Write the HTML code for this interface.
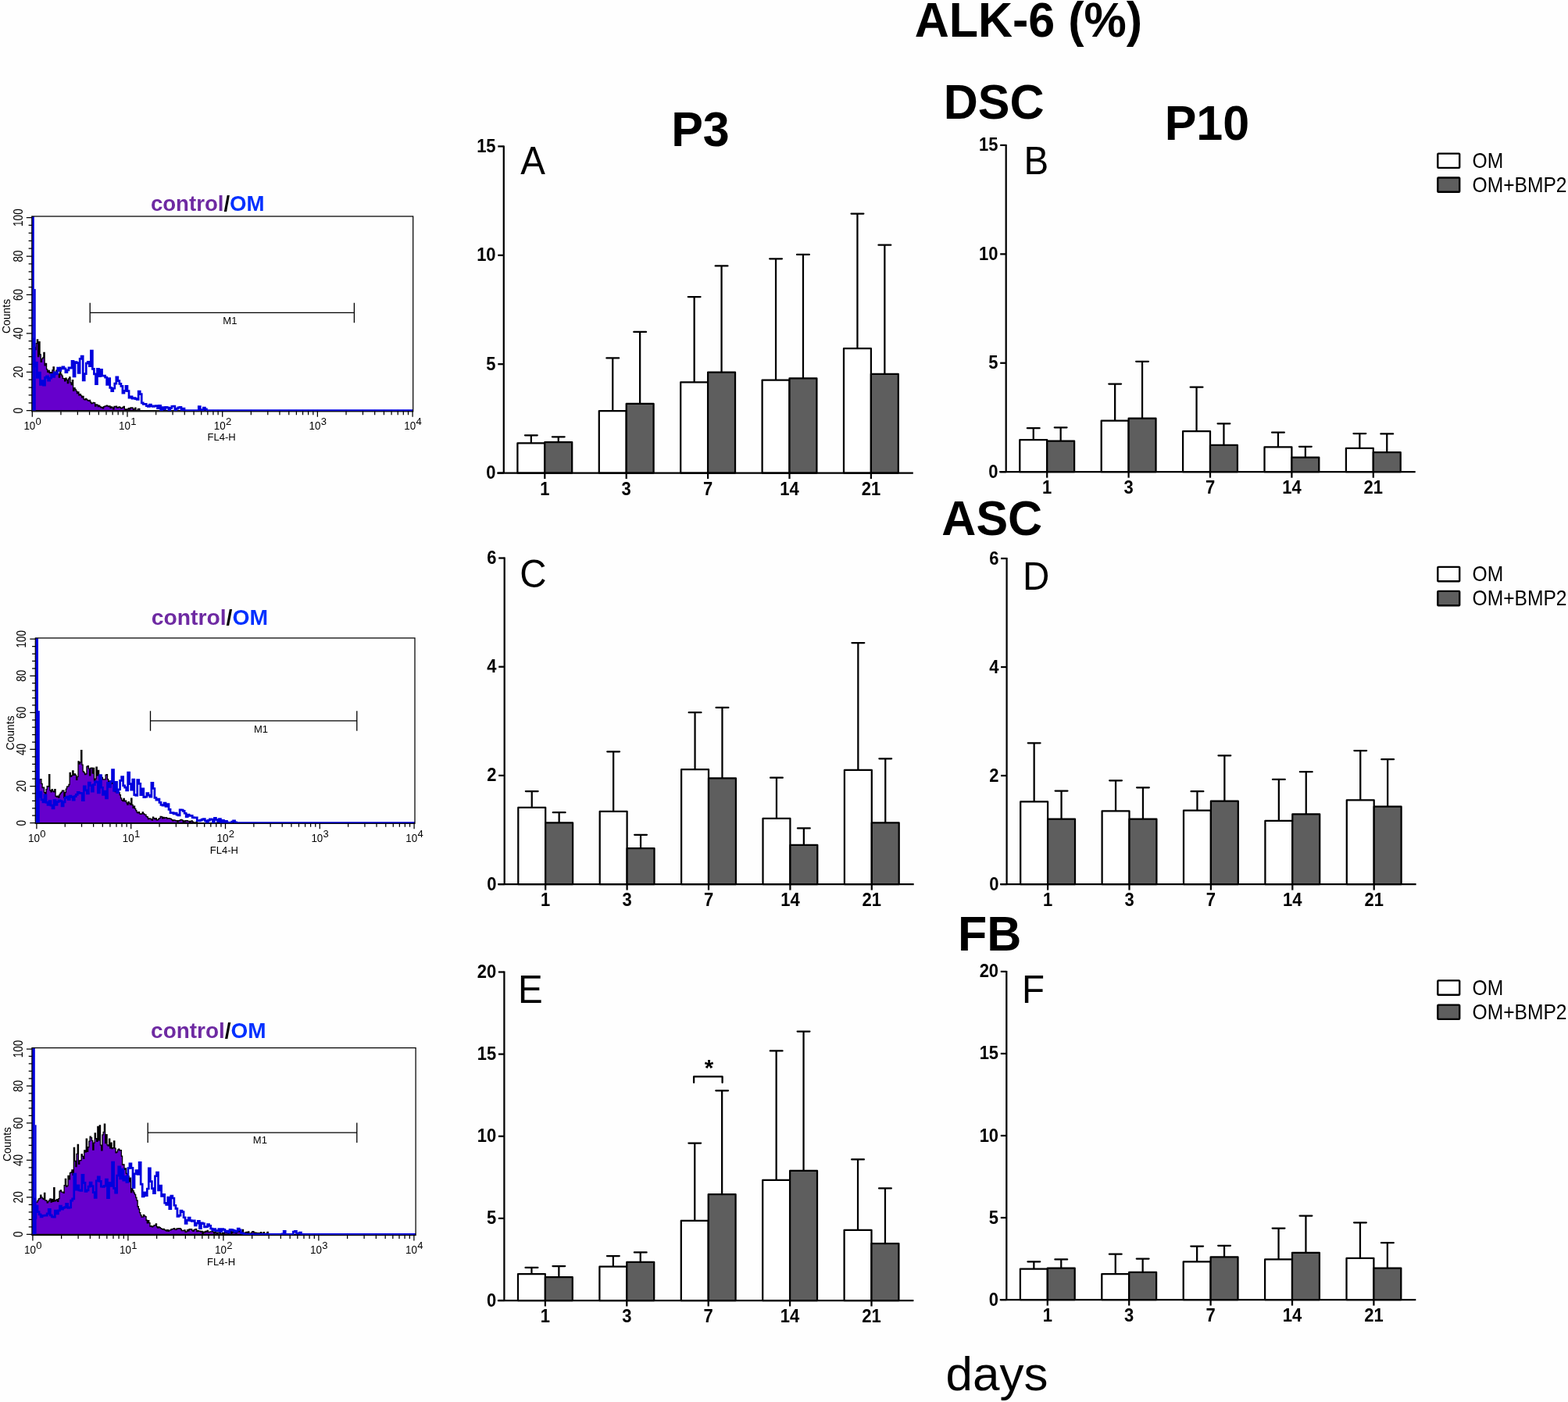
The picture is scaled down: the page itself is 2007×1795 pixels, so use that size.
<!DOCTYPE html>
<html><head><meta charset="utf-8"><title>ALK-6 (%)</title>
<style>html,body{margin:0;padding:0;background:#fefefe;}svg{display:block;}</style></head>
<body><svg width="2007" height="1795" viewBox="0 0 2007 1795">
<rect width="2007" height="1795" fill="#fefefe"/>
<g fill="none" stroke="#000" stroke-width="2.25" stroke-linejoin="round"><line x1="679.85" y1="567.40" x2="679.85" y2="557.37" /><line x1="671.95" y1="557.37" x2="687.75" y2="557.37" stroke-linecap="round"/><rect x="662.40" y="567.40" width="34.90" height="38.20" fill="#ffffff" /><line x1="714.75" y1="566.01" x2="714.75" y2="559.32" /><line x1="706.85" y1="559.32" x2="722.65" y2="559.32" stroke-linecap="round"/><rect x="697.30" y="566.01" width="34.90" height="39.59" fill="#5e5e5e" /><line x1="784.25" y1="526.14" x2="784.25" y2="458.39" /><line x1="776.35" y1="458.39" x2="792.15" y2="458.39" stroke-linecap="round"/><rect x="766.80" y="526.14" width="34.90" height="79.46" fill="#ffffff" /><line x1="819.15" y1="516.94" x2="819.15" y2="424.94" /><line x1="811.25" y1="424.94" x2="827.05" y2="424.94" stroke-linecap="round"/><rect x="801.70" y="516.94" width="34.90" height="88.66" fill="#5e5e5e" /><line x1="888.65" y1="489.34" x2="888.65" y2="380.05" /><line x1="880.75" y1="380.05" x2="896.55" y2="380.05" stroke-linecap="round"/><rect x="871.20" y="489.34" width="34.90" height="116.26" fill="#ffffff" /><line x1="923.55" y1="476.52" x2="923.55" y2="340.46" /><line x1="915.65" y1="340.46" x2="931.45" y2="340.46" stroke-linecap="round"/><rect x="906.10" y="476.52" width="34.90" height="129.08" fill="#5e5e5e" /><line x1="993.05" y1="486.55" x2="993.05" y2="331.26" /><line x1="985.15" y1="331.26" x2="1000.95" y2="331.26" stroke-linecap="round"/><rect x="975.60" y="486.55" width="34.90" height="119.05" fill="#ffffff" /><line x1="1027.95" y1="484.32" x2="1027.95" y2="325.96" /><line x1="1020.05" y1="325.96" x2="1035.85" y2="325.96" stroke-linecap="round"/><rect x="1010.50" y="484.32" width="34.90" height="121.28" fill="#5e5e5e" /><line x1="1097.45" y1="446.13" x2="1097.45" y2="273.55" /><line x1="1089.55" y1="273.55" x2="1105.35" y2="273.55" stroke-linecap="round"/><rect x="1080.00" y="446.13" width="34.90" height="159.47" fill="#ffffff" /><line x1="1132.35" y1="478.75" x2="1132.35" y2="313.70" /><line x1="1124.45" y1="313.70" x2="1140.25" y2="313.70" stroke-linecap="round"/><rect x="1114.90" y="478.75" width="34.90" height="126.85" fill="#5e5e5e" /><line x1="644.80" y1="186.40" x2="644.80" y2="605.60" /><line x1="636.30" y1="605.60" x2="1168.80" y2="605.60" /><line x1="637.30" y1="605.60" x2="644.80" y2="605.60" /><line x1="637.30" y1="466.20" x2="644.80" y2="466.20" /><line x1="637.30" y1="326.80" x2="644.80" y2="326.80" /><line x1="637.30" y1="187.40" x2="644.80" y2="187.40" /><line x1="697.30" y1="605.60" x2="697.30" y2="613.10" /><line x1="801.70" y1="605.60" x2="801.70" y2="613.10" /><line x1="906.10" y1="605.60" x2="906.10" y2="613.10" /><line x1="1010.50" y1="605.60" x2="1010.50" y2="613.10" /><line x1="1114.90" y1="605.60" x2="1114.90" y2="613.10" /></g>
<text transform="translate(634.60,613.10) scale(1,1.11)" text-anchor="end" font-family="'Liberation Sans', Arial, Helvetica, sans-serif" font-size="22" font-weight="bold" fill="#000">0</text><text transform="translate(634.60,473.70) scale(1,1.11)" text-anchor="end" font-family="'Liberation Sans', Arial, Helvetica, sans-serif" font-size="22" font-weight="bold" fill="#000">5</text><text transform="translate(634.60,334.30) scale(1,1.11)" text-anchor="end" font-family="'Liberation Sans', Arial, Helvetica, sans-serif" font-size="22" font-weight="bold" fill="#000">10</text><text transform="translate(634.60,194.90) scale(1,1.11)" text-anchor="end" font-family="'Liberation Sans', Arial, Helvetica, sans-serif" font-size="22" font-weight="bold" fill="#000">15</text><text transform="translate(697.30,633.80) scale(1,1.11)" text-anchor="middle" font-family="'Liberation Sans', Arial, Helvetica, sans-serif" font-size="22" font-weight="bold" fill="#000">1</text><text transform="translate(801.70,633.80) scale(1,1.11)" text-anchor="middle" font-family="'Liberation Sans', Arial, Helvetica, sans-serif" font-size="22" font-weight="bold" fill="#000">3</text><text transform="translate(906.10,633.80) scale(1,1.11)" text-anchor="middle" font-family="'Liberation Sans', Arial, Helvetica, sans-serif" font-size="22" font-weight="bold" fill="#000">7</text><text transform="translate(1010.50,633.80) scale(1,1.11)" text-anchor="middle" font-family="'Liberation Sans', Arial, Helvetica, sans-serif" font-size="22" font-weight="bold" fill="#000">14</text><text transform="translate(1114.90,633.80) scale(1,1.11)" text-anchor="middle" font-family="'Liberation Sans', Arial, Helvetica, sans-serif" font-size="22" font-weight="bold" fill="#000">21</text>
<text transform="translate(666.30,223.00) scale(1,1.04)" text-anchor="start" font-family="'Liberation Sans', Arial, Helvetica, sans-serif" font-size="47.5" fill="#000">A</text>
<g fill="none" stroke="#000" stroke-width="2.25" stroke-linejoin="round"><line x1="1322.75" y1="563.21" x2="1322.75" y2="548.15" /><line x1="1314.85" y1="548.15" x2="1330.65" y2="548.15" stroke-linecap="round"/><rect x="1305.30" y="563.21" width="34.90" height="40.99" fill="#ffffff" /><line x1="1357.65" y1="564.60" x2="1357.65" y2="547.31" /><line x1="1349.75" y1="547.31" x2="1365.55" y2="547.31" stroke-linecap="round"/><rect x="1340.20" y="564.60" width="34.90" height="39.60" fill="#5e5e5e" /><line x1="1427.15" y1="538.67" x2="1427.15" y2="491.54" /><line x1="1419.25" y1="491.54" x2="1435.05" y2="491.54" stroke-linecap="round"/><rect x="1409.70" y="538.67" width="34.90" height="65.53" fill="#ffffff" /><line x1="1462.05" y1="535.60" x2="1462.05" y2="462.81" /><line x1="1454.15" y1="462.81" x2="1469.95" y2="462.81" stroke-linecap="round"/><rect x="1444.60" y="535.60" width="34.90" height="68.60" fill="#5e5e5e" /><line x1="1531.55" y1="552.05" x2="1531.55" y2="495.72" /><line x1="1523.65" y1="495.72" x2="1539.45" y2="495.72" stroke-linecap="round"/><rect x="1514.10" y="552.05" width="34.90" height="52.15" fill="#ffffff" /><line x1="1566.45" y1="569.90" x2="1566.45" y2="542.29" /><line x1="1558.55" y1="542.29" x2="1574.35" y2="542.29" stroke-linecap="round"/><rect x="1549.00" y="569.90" width="34.90" height="34.30" fill="#5e5e5e" /><line x1="1635.95" y1="572.41" x2="1635.95" y2="553.73" /><line x1="1628.05" y1="553.73" x2="1643.85" y2="553.73" stroke-linecap="round"/><rect x="1618.50" y="572.41" width="34.90" height="31.79" fill="#ffffff" /><line x1="1670.85" y1="585.52" x2="1670.85" y2="571.85" /><line x1="1662.95" y1="571.85" x2="1678.75" y2="571.85" stroke-linecap="round"/><rect x="1653.40" y="585.52" width="34.90" height="18.68" fill="#5e5e5e" /><line x1="1740.35" y1="573.80" x2="1740.35" y2="555.12" /><line x1="1732.45" y1="555.12" x2="1748.25" y2="555.12" stroke-linecap="round"/><rect x="1722.90" y="573.80" width="34.90" height="30.40" fill="#ffffff" /><line x1="1775.25" y1="579.10" x2="1775.25" y2="555.40" /><line x1="1767.35" y1="555.40" x2="1783.15" y2="555.40" stroke-linecap="round"/><rect x="1757.80" y="579.10" width="34.90" height="25.10" fill="#5e5e5e" /><line x1="1287.70" y1="184.90" x2="1287.70" y2="604.20" /><line x1="1279.20" y1="604.20" x2="1811.70" y2="604.20" /><line x1="1280.20" y1="604.20" x2="1287.70" y2="604.20" /><line x1="1280.20" y1="464.77" x2="1287.70" y2="464.77" /><line x1="1280.20" y1="325.33" x2="1287.70" y2="325.33" /><line x1="1280.20" y1="185.90" x2="1287.70" y2="185.90" /><line x1="1340.20" y1="604.20" x2="1340.20" y2="611.70" /><line x1="1444.60" y1="604.20" x2="1444.60" y2="611.70" /><line x1="1549.00" y1="604.20" x2="1549.00" y2="611.70" /><line x1="1653.40" y1="604.20" x2="1653.40" y2="611.70" /><line x1="1757.80" y1="604.20" x2="1757.80" y2="611.70" /></g>
<text transform="translate(1277.50,611.70) scale(1,1.11)" text-anchor="end" font-family="'Liberation Sans', Arial, Helvetica, sans-serif" font-size="22" font-weight="bold" fill="#000">0</text><text transform="translate(1277.50,472.27) scale(1,1.11)" text-anchor="end" font-family="'Liberation Sans', Arial, Helvetica, sans-serif" font-size="22" font-weight="bold" fill="#000">5</text><text transform="translate(1277.50,332.83) scale(1,1.11)" text-anchor="end" font-family="'Liberation Sans', Arial, Helvetica, sans-serif" font-size="22" font-weight="bold" fill="#000">10</text><text transform="translate(1277.50,193.40) scale(1,1.11)" text-anchor="end" font-family="'Liberation Sans', Arial, Helvetica, sans-serif" font-size="22" font-weight="bold" fill="#000">15</text><text transform="translate(1340.20,632.40) scale(1,1.11)" text-anchor="middle" font-family="'Liberation Sans', Arial, Helvetica, sans-serif" font-size="22" font-weight="bold" fill="#000">1</text><text transform="translate(1444.60,632.40) scale(1,1.11)" text-anchor="middle" font-family="'Liberation Sans', Arial, Helvetica, sans-serif" font-size="22" font-weight="bold" fill="#000">3</text><text transform="translate(1549.00,632.40) scale(1,1.11)" text-anchor="middle" font-family="'Liberation Sans', Arial, Helvetica, sans-serif" font-size="22" font-weight="bold" fill="#000">7</text><text transform="translate(1653.40,632.40) scale(1,1.11)" text-anchor="middle" font-family="'Liberation Sans', Arial, Helvetica, sans-serif" font-size="22" font-weight="bold" fill="#000">14</text><text transform="translate(1757.80,632.40) scale(1,1.11)" text-anchor="middle" font-family="'Liberation Sans', Arial, Helvetica, sans-serif" font-size="22" font-weight="bold" fill="#000">21</text>
<text transform="translate(1310.50,222.60) scale(1,1.04)" text-anchor="start" font-family="'Liberation Sans', Arial, Helvetica, sans-serif" font-size="47.5" fill="#000">B</text>
<g fill="none" stroke="#000" stroke-width="2.25" stroke-linejoin="round"><line x1="680.75" y1="1033.96" x2="680.75" y2="1013.08" /><line x1="672.85" y1="1013.08" x2="688.65" y2="1013.08" stroke-linecap="round"/><rect x="663.30" y="1033.96" width="34.90" height="98.14" fill="#ffffff" /><line x1="715.65" y1="1053.45" x2="715.65" y2="1040.23" /><line x1="707.75" y1="1040.23" x2="723.55" y2="1040.23" stroke-linecap="round"/><rect x="698.20" y="1053.45" width="34.90" height="78.65" fill="#5e5e5e" /><line x1="785.15" y1="1038.84" x2="785.15" y2="962.28" /><line x1="777.25" y1="962.28" x2="793.05" y2="962.28" stroke-linecap="round"/><rect x="767.70" y="1038.84" width="34.90" height="93.26" fill="#ffffff" /><line x1="820.05" y1="1086.16" x2="820.05" y2="1068.76" /><line x1="812.15" y1="1068.76" x2="827.95" y2="1068.76" stroke-linecap="round"/><rect x="802.60" y="1086.16" width="34.90" height="45.94" fill="#5e5e5e" /><line x1="889.55" y1="985.24" x2="889.55" y2="912.16" /><line x1="881.65" y1="912.16" x2="897.45" y2="912.16" stroke-linecap="round"/><rect x="872.10" y="985.24" width="34.90" height="146.86" fill="#ffffff" /><line x1="924.45" y1="996.38" x2="924.45" y2="905.90" /><line x1="916.55" y1="905.90" x2="932.35" y2="905.90" stroke-linecap="round"/><rect x="907.00" y="996.38" width="34.90" height="135.72" fill="#5e5e5e" /><line x1="993.95" y1="1047.88" x2="993.95" y2="995.68" /><line x1="986.05" y1="995.68" x2="1001.85" y2="995.68" stroke-linecap="round"/><rect x="976.50" y="1047.88" width="34.90" height="84.22" fill="#ffffff" /><line x1="1028.85" y1="1081.99" x2="1028.85" y2="1060.41" /><line x1="1020.95" y1="1060.41" x2="1036.75" y2="1060.41" stroke-linecap="round"/><rect x="1011.40" y="1081.99" width="34.90" height="50.11" fill="#5e5e5e" /><line x1="1098.35" y1="985.94" x2="1098.35" y2="823.08" /><line x1="1090.45" y1="823.08" x2="1106.25" y2="823.08" stroke-linecap="round"/><rect x="1080.90" y="985.94" width="34.90" height="146.16" fill="#ffffff" /><line x1="1133.25" y1="1053.45" x2="1133.25" y2="971.32" /><line x1="1125.35" y1="971.32" x2="1141.15" y2="971.32" stroke-linecap="round"/><rect x="1115.80" y="1053.45" width="34.90" height="78.65" fill="#5e5e5e" /><line x1="645.70" y1="713.50" x2="645.70" y2="1132.10" /><line x1="637.20" y1="1132.10" x2="1169.70" y2="1132.10" /><line x1="638.20" y1="1132.10" x2="645.70" y2="1132.10" /><line x1="638.20" y1="992.90" x2="645.70" y2="992.90" /><line x1="638.20" y1="853.70" x2="645.70" y2="853.70" /><line x1="638.20" y1="714.50" x2="645.70" y2="714.50" /><line x1="698.20" y1="1132.10" x2="698.20" y2="1139.60" /><line x1="802.60" y1="1132.10" x2="802.60" y2="1139.60" /><line x1="907.00" y1="1132.10" x2="907.00" y2="1139.60" /><line x1="1011.40" y1="1132.10" x2="1011.40" y2="1139.60" /><line x1="1115.80" y1="1132.10" x2="1115.80" y2="1139.60" /></g>
<text transform="translate(635.50,1139.60) scale(1,1.11)" text-anchor="end" font-family="'Liberation Sans', Arial, Helvetica, sans-serif" font-size="22" font-weight="bold" fill="#000">0</text><text transform="translate(635.50,1000.40) scale(1,1.11)" text-anchor="end" font-family="'Liberation Sans', Arial, Helvetica, sans-serif" font-size="22" font-weight="bold" fill="#000">2</text><text transform="translate(635.50,861.20) scale(1,1.11)" text-anchor="end" font-family="'Liberation Sans', Arial, Helvetica, sans-serif" font-size="22" font-weight="bold" fill="#000">4</text><text transform="translate(635.50,722.00) scale(1,1.11)" text-anchor="end" font-family="'Liberation Sans', Arial, Helvetica, sans-serif" font-size="22" font-weight="bold" fill="#000">6</text><text transform="translate(698.20,1160.30) scale(1,1.11)" text-anchor="middle" font-family="'Liberation Sans', Arial, Helvetica, sans-serif" font-size="22" font-weight="bold" fill="#000">1</text><text transform="translate(802.60,1160.30) scale(1,1.11)" text-anchor="middle" font-family="'Liberation Sans', Arial, Helvetica, sans-serif" font-size="22" font-weight="bold" fill="#000">3</text><text transform="translate(907.00,1160.30) scale(1,1.11)" text-anchor="middle" font-family="'Liberation Sans', Arial, Helvetica, sans-serif" font-size="22" font-weight="bold" fill="#000">7</text><text transform="translate(1011.40,1160.30) scale(1,1.11)" text-anchor="middle" font-family="'Liberation Sans', Arial, Helvetica, sans-serif" font-size="22" font-weight="bold" fill="#000">14</text><text transform="translate(1115.80,1160.30) scale(1,1.11)" text-anchor="middle" font-family="'Liberation Sans', Arial, Helvetica, sans-serif" font-size="22" font-weight="bold" fill="#000">21</text>
<text transform="translate(665.30,751.90) scale(1,1.04)" text-anchor="start" font-family="'Liberation Sans', Arial, Helvetica, sans-serif" font-size="47.5" fill="#000">C</text>
<g fill="none" stroke="#000" stroke-width="2.25" stroke-linejoin="round"><line x1="1323.65" y1="1026.43" x2="1323.65" y2="951.36" /><line x1="1315.75" y1="951.36" x2="1331.55" y2="951.36" stroke-linecap="round"/><rect x="1306.20" y="1026.43" width="34.90" height="105.67" fill="#ffffff" /><line x1="1358.55" y1="1048.68" x2="1358.55" y2="1012.53" /><line x1="1350.65" y1="1012.53" x2="1366.45" y2="1012.53" stroke-linecap="round"/><rect x="1341.10" y="1048.68" width="34.90" height="83.42" fill="#5e5e5e" /><line x1="1428.05" y1="1038.25" x2="1428.05" y2="999.32" /><line x1="1420.15" y1="999.32" x2="1435.95" y2="999.32" stroke-linecap="round"/><rect x="1410.60" y="1038.25" width="34.90" height="93.85" fill="#ffffff" /><line x1="1462.95" y1="1048.68" x2="1462.95" y2="1008.36" /><line x1="1455.05" y1="1008.36" x2="1470.85" y2="1008.36" stroke-linecap="round"/><rect x="1445.50" y="1048.68" width="34.90" height="83.42" fill="#5e5e5e" /><line x1="1532.45" y1="1037.56" x2="1532.45" y2="1013.23" /><line x1="1524.55" y1="1013.23" x2="1540.35" y2="1013.23" stroke-linecap="round"/><rect x="1515.00" y="1037.56" width="34.90" height="94.54" fill="#ffffff" /><line x1="1567.35" y1="1025.74" x2="1567.35" y2="967.35" /><line x1="1559.45" y1="967.35" x2="1575.25" y2="967.35" stroke-linecap="round"/><rect x="1549.90" y="1025.74" width="34.90" height="106.36" fill="#5e5e5e" /><line x1="1636.85" y1="1050.77" x2="1636.85" y2="997.93" /><line x1="1628.95" y1="997.93" x2="1644.75" y2="997.93" stroke-linecap="round"/><rect x="1619.40" y="1050.77" width="34.90" height="81.33" fill="#ffffff" /><line x1="1671.75" y1="1042.42" x2="1671.75" y2="988.20" /><line x1="1663.85" y1="988.20" x2="1679.65" y2="988.20" stroke-linecap="round"/><rect x="1654.30" y="1042.42" width="34.90" height="89.68" fill="#5e5e5e" /><line x1="1741.25" y1="1024.35" x2="1741.25" y2="961.09" /><line x1="1733.35" y1="961.09" x2="1749.15" y2="961.09" stroke-linecap="round"/><rect x="1723.80" y="1024.35" width="34.90" height="107.75" fill="#ffffff" /><line x1="1776.15" y1="1032.69" x2="1776.15" y2="972.21" /><line x1="1768.25" y1="972.21" x2="1784.05" y2="972.21" stroke-linecap="round"/><rect x="1758.70" y="1032.69" width="34.90" height="99.41" fill="#5e5e5e" /><line x1="1288.60" y1="714.00" x2="1288.60" y2="1132.10" /><line x1="1280.10" y1="1132.10" x2="1812.60" y2="1132.10" /><line x1="1281.10" y1="1132.10" x2="1288.60" y2="1132.10" /><line x1="1281.10" y1="993.07" x2="1288.60" y2="993.07" /><line x1="1281.10" y1="854.03" x2="1288.60" y2="854.03" /><line x1="1281.10" y1="715.00" x2="1288.60" y2="715.00" /><line x1="1341.10" y1="1132.10" x2="1341.10" y2="1139.60" /><line x1="1445.50" y1="1132.10" x2="1445.50" y2="1139.60" /><line x1="1549.90" y1="1132.10" x2="1549.90" y2="1139.60" /><line x1="1654.30" y1="1132.10" x2="1654.30" y2="1139.60" /><line x1="1758.70" y1="1132.10" x2="1758.70" y2="1139.60" /></g>
<text transform="translate(1278.40,1139.60) scale(1,1.11)" text-anchor="end" font-family="'Liberation Sans', Arial, Helvetica, sans-serif" font-size="22" font-weight="bold" fill="#000">0</text><text transform="translate(1278.40,1000.57) scale(1,1.11)" text-anchor="end" font-family="'Liberation Sans', Arial, Helvetica, sans-serif" font-size="22" font-weight="bold" fill="#000">2</text><text transform="translate(1278.40,861.53) scale(1,1.11)" text-anchor="end" font-family="'Liberation Sans', Arial, Helvetica, sans-serif" font-size="22" font-weight="bold" fill="#000">4</text><text transform="translate(1278.40,722.50) scale(1,1.11)" text-anchor="end" font-family="'Liberation Sans', Arial, Helvetica, sans-serif" font-size="22" font-weight="bold" fill="#000">6</text><text transform="translate(1341.10,1160.30) scale(1,1.11)" text-anchor="middle" font-family="'Liberation Sans', Arial, Helvetica, sans-serif" font-size="22" font-weight="bold" fill="#000">1</text><text transform="translate(1445.50,1160.30) scale(1,1.11)" text-anchor="middle" font-family="'Liberation Sans', Arial, Helvetica, sans-serif" font-size="22" font-weight="bold" fill="#000">3</text><text transform="translate(1549.90,1160.30) scale(1,1.11)" text-anchor="middle" font-family="'Liberation Sans', Arial, Helvetica, sans-serif" font-size="22" font-weight="bold" fill="#000">7</text><text transform="translate(1654.30,1160.30) scale(1,1.11)" text-anchor="middle" font-family="'Liberation Sans', Arial, Helvetica, sans-serif" font-size="22" font-weight="bold" fill="#000">14</text><text transform="translate(1758.70,1160.30) scale(1,1.11)" text-anchor="middle" font-family="'Liberation Sans', Arial, Helvetica, sans-serif" font-size="22" font-weight="bold" fill="#000">21</text>
<text transform="translate(1309.00,755.40) scale(1,1.04)" text-anchor="start" font-family="'Liberation Sans', Arial, Helvetica, sans-serif" font-size="47.5" fill="#000">D</text>
<g fill="none" stroke="#000" stroke-width="2.25" stroke-linejoin="round"><line x1="680.45" y1="1631.15" x2="680.45" y2="1622.95" /><line x1="672.55" y1="1622.95" x2="688.35" y2="1622.95" stroke-linecap="round"/><rect x="663.00" y="1631.15" width="34.90" height="33.85" fill="#ffffff" /><line x1="715.35" y1="1635.14" x2="715.35" y2="1621.06" /><line x1="707.45" y1="1621.06" x2="723.25" y2="1621.06" stroke-linecap="round"/><rect x="697.90" y="1635.14" width="34.90" height="29.86" fill="#5e5e5e" /><line x1="784.85" y1="1621.69" x2="784.85" y2="1608.02" /><line x1="776.95" y1="1608.02" x2="792.75" y2="1608.02" stroke-linecap="round"/><rect x="767.40" y="1621.69" width="34.90" height="43.31" fill="#ffffff" /><line x1="819.75" y1="1615.80" x2="819.75" y2="1603.40" /><line x1="811.85" y1="1603.40" x2="827.65" y2="1603.40" stroke-linecap="round"/><rect x="802.30" y="1615.80" width="34.90" height="49.20" fill="#5e5e5e" /><line x1="889.25" y1="1562.82" x2="889.25" y2="1463.58" /><line x1="881.35" y1="1463.58" x2="897.15" y2="1463.58" stroke-linecap="round"/><rect x="871.80" y="1562.82" width="34.90" height="102.18" fill="#ffffff" /><line x1="924.15" y1="1529.18" x2="924.15" y2="1396.30" /><line x1="916.25" y1="1396.30" x2="932.05" y2="1396.30" stroke-linecap="round"/><rect x="906.70" y="1529.18" width="34.90" height="135.82" fill="#5e5e5e" /><line x1="993.65" y1="1510.89" x2="993.65" y2="1345.42" /><line x1="985.75" y1="1345.42" x2="1001.55" y2="1345.42" stroke-linecap="round"/><rect x="976.20" y="1510.89" width="34.90" height="154.11" fill="#ffffff" /><line x1="1028.55" y1="1498.90" x2="1028.55" y2="1320.61" /><line x1="1020.65" y1="1320.61" x2="1036.45" y2="1320.61" stroke-linecap="round"/><rect x="1011.10" y="1498.90" width="34.90" height="166.10" fill="#5e5e5e" /><line x1="1098.05" y1="1574.80" x2="1098.05" y2="1484.40" /><line x1="1090.15" y1="1484.40" x2="1105.95" y2="1484.40" stroke-linecap="round"/><rect x="1080.60" y="1574.80" width="34.90" height="90.20" fill="#ffffff" /><line x1="1132.95" y1="1592.04" x2="1132.95" y2="1521.40" /><line x1="1125.05" y1="1521.40" x2="1140.85" y2="1521.40" stroke-linecap="round"/><rect x="1115.50" y="1592.04" width="34.90" height="72.96" fill="#5e5e5e" /><line x1="645.40" y1="1243.50" x2="645.40" y2="1665.00" /><line x1="636.90" y1="1665.00" x2="1169.40" y2="1665.00" /><line x1="637.90" y1="1665.00" x2="645.40" y2="1665.00" /><line x1="637.90" y1="1559.88" x2="645.40" y2="1559.88" /><line x1="637.90" y1="1454.75" x2="645.40" y2="1454.75" /><line x1="637.90" y1="1349.62" x2="645.40" y2="1349.62" /><line x1="637.90" y1="1244.50" x2="645.40" y2="1244.50" /><line x1="697.90" y1="1665.00" x2="697.90" y2="1672.50" /><line x1="802.30" y1="1665.00" x2="802.30" y2="1672.50" /><line x1="906.70" y1="1665.00" x2="906.70" y2="1672.50" /><line x1="1011.10" y1="1665.00" x2="1011.10" y2="1672.50" /><line x1="1115.50" y1="1665.00" x2="1115.50" y2="1672.50" /></g>
<text transform="translate(635.20,1672.50) scale(1,1.11)" text-anchor="end" font-family="'Liberation Sans', Arial, Helvetica, sans-serif" font-size="22" font-weight="bold" fill="#000">0</text><text transform="translate(635.20,1567.38) scale(1,1.11)" text-anchor="end" font-family="'Liberation Sans', Arial, Helvetica, sans-serif" font-size="22" font-weight="bold" fill="#000">5</text><text transform="translate(635.20,1462.25) scale(1,1.11)" text-anchor="end" font-family="'Liberation Sans', Arial, Helvetica, sans-serif" font-size="22" font-weight="bold" fill="#000">10</text><text transform="translate(635.20,1357.12) scale(1,1.11)" text-anchor="end" font-family="'Liberation Sans', Arial, Helvetica, sans-serif" font-size="22" font-weight="bold" fill="#000">15</text><text transform="translate(635.20,1252.00) scale(1,1.11)" text-anchor="end" font-family="'Liberation Sans', Arial, Helvetica, sans-serif" font-size="22" font-weight="bold" fill="#000">20</text><text transform="translate(697.90,1693.20) scale(1,1.11)" text-anchor="middle" font-family="'Liberation Sans', Arial, Helvetica, sans-serif" font-size="22" font-weight="bold" fill="#000">1</text><text transform="translate(802.30,1693.20) scale(1,1.11)" text-anchor="middle" font-family="'Liberation Sans', Arial, Helvetica, sans-serif" font-size="22" font-weight="bold" fill="#000">3</text><text transform="translate(906.70,1693.20) scale(1,1.11)" text-anchor="middle" font-family="'Liberation Sans', Arial, Helvetica, sans-serif" font-size="22" font-weight="bold" fill="#000">7</text><text transform="translate(1011.10,1693.20) scale(1,1.11)" text-anchor="middle" font-family="'Liberation Sans', Arial, Helvetica, sans-serif" font-size="22" font-weight="bold" fill="#000">14</text><text transform="translate(1115.50,1693.20) scale(1,1.11)" text-anchor="middle" font-family="'Liberation Sans', Arial, Helvetica, sans-serif" font-size="22" font-weight="bold" fill="#000">21</text>
<text transform="translate(663.00,1283.80) scale(1,1.04)" text-anchor="start" font-family="'Liberation Sans', Arial, Helvetica, sans-serif" font-size="47.5" fill="#000">E</text>
<path d="M888.1,1386.0 V1378.3 H924.6 V1386.0" fill="none" stroke="#000" stroke-width="2.3" stroke-linejoin="round" stroke-linecap="round"/>
<text x="907.45" y="1376.80" text-anchor="middle" font-family="'Liberation Sans', Arial, Helvetica, sans-serif" font-weight="bold" font-size="29.5" fill="#000">*</text>
<g fill="none" stroke="#000" stroke-width="2.25" stroke-linejoin="round"><line x1="1323.35" y1="1624.60" x2="1323.35" y2="1615.36" /><line x1="1315.45" y1="1615.36" x2="1331.25" y2="1615.36" stroke-linecap="round"/><rect x="1305.90" y="1624.60" width="34.90" height="39.50" fill="#ffffff" /><line x1="1358.25" y1="1623.55" x2="1358.25" y2="1612.42" /><line x1="1350.35" y1="1612.42" x2="1366.15" y2="1612.42" stroke-linecap="round"/><rect x="1340.80" y="1623.55" width="34.90" height="40.55" fill="#5e5e5e" /><line x1="1427.75" y1="1631.11" x2="1427.75" y2="1605.69" /><line x1="1419.85" y1="1605.69" x2="1435.65" y2="1605.69" stroke-linecap="round"/><rect x="1410.30" y="1631.11" width="34.90" height="32.99" fill="#ffffff" /><line x1="1462.65" y1="1628.80" x2="1462.65" y2="1611.57" /><line x1="1454.75" y1="1611.57" x2="1470.55" y2="1611.57" stroke-linecap="round"/><rect x="1445.20" y="1628.80" width="34.90" height="35.30" fill="#5e5e5e" /><line x1="1532.15" y1="1615.36" x2="1532.15" y2="1595.61" /><line x1="1524.25" y1="1595.61" x2="1540.05" y2="1595.61" stroke-linecap="round"/><rect x="1514.70" y="1615.36" width="34.90" height="48.74" fill="#ffffff" /><line x1="1567.05" y1="1609.47" x2="1567.05" y2="1594.77" /><line x1="1559.15" y1="1594.77" x2="1574.95" y2="1594.77" stroke-linecap="round"/><rect x="1549.60" y="1609.47" width="34.90" height="54.63" fill="#5e5e5e" /><line x1="1636.55" y1="1612.42" x2="1636.55" y2="1572.50" /><line x1="1628.65" y1="1572.50" x2="1644.45" y2="1572.50" stroke-linecap="round"/><rect x="1619.10" y="1612.42" width="34.90" height="51.68" fill="#ffffff" /><line x1="1671.45" y1="1603.80" x2="1671.45" y2="1556.53" /><line x1="1663.55" y1="1556.53" x2="1679.35" y2="1556.53" stroke-linecap="round"/><rect x="1654.00" y="1603.80" width="34.90" height="60.30" fill="#5e5e5e" /><line x1="1740.95" y1="1610.94" x2="1740.95" y2="1565.35" /><line x1="1733.05" y1="1565.35" x2="1748.85" y2="1565.35" stroke-linecap="round"/><rect x="1723.50" y="1610.94" width="34.90" height="53.16" fill="#ffffff" /><line x1="1775.85" y1="1623.55" x2="1775.85" y2="1591.20" /><line x1="1767.95" y1="1591.20" x2="1783.75" y2="1591.20" stroke-linecap="round"/><rect x="1758.40" y="1623.55" width="34.90" height="40.55" fill="#5e5e5e" /><line x1="1288.30" y1="1242.90" x2="1288.30" y2="1664.10" /><line x1="1279.80" y1="1664.10" x2="1812.30" y2="1664.10" /><line x1="1280.80" y1="1664.10" x2="1288.30" y2="1664.10" /><line x1="1280.80" y1="1559.05" x2="1288.30" y2="1559.05" /><line x1="1280.80" y1="1454.00" x2="1288.30" y2="1454.00" /><line x1="1280.80" y1="1348.95" x2="1288.30" y2="1348.95" /><line x1="1280.80" y1="1243.90" x2="1288.30" y2="1243.90" /><line x1="1340.80" y1="1664.10" x2="1340.80" y2="1671.60" /><line x1="1445.20" y1="1664.10" x2="1445.20" y2="1671.60" /><line x1="1549.60" y1="1664.10" x2="1549.60" y2="1671.60" /><line x1="1654.00" y1="1664.10" x2="1654.00" y2="1671.60" /><line x1="1758.40" y1="1664.10" x2="1758.40" y2="1671.60" /></g>
<text transform="translate(1278.10,1671.60) scale(1,1.11)" text-anchor="end" font-family="'Liberation Sans', Arial, Helvetica, sans-serif" font-size="22" font-weight="bold" fill="#000">0</text><text transform="translate(1278.10,1566.55) scale(1,1.11)" text-anchor="end" font-family="'Liberation Sans', Arial, Helvetica, sans-serif" font-size="22" font-weight="bold" fill="#000">5</text><text transform="translate(1278.10,1461.50) scale(1,1.11)" text-anchor="end" font-family="'Liberation Sans', Arial, Helvetica, sans-serif" font-size="22" font-weight="bold" fill="#000">10</text><text transform="translate(1278.10,1356.45) scale(1,1.11)" text-anchor="end" font-family="'Liberation Sans', Arial, Helvetica, sans-serif" font-size="22" font-weight="bold" fill="#000">15</text><text transform="translate(1278.10,1251.40) scale(1,1.11)" text-anchor="end" font-family="'Liberation Sans', Arial, Helvetica, sans-serif" font-size="22" font-weight="bold" fill="#000">20</text><text transform="translate(1340.80,1692.30) scale(1,1.11)" text-anchor="middle" font-family="'Liberation Sans', Arial, Helvetica, sans-serif" font-size="22" font-weight="bold" fill="#000">1</text><text transform="translate(1445.20,1692.30) scale(1,1.11)" text-anchor="middle" font-family="'Liberation Sans', Arial, Helvetica, sans-serif" font-size="22" font-weight="bold" fill="#000">3</text><text transform="translate(1549.60,1692.30) scale(1,1.11)" text-anchor="middle" font-family="'Liberation Sans', Arial, Helvetica, sans-serif" font-size="22" font-weight="bold" fill="#000">7</text><text transform="translate(1654.00,1692.30) scale(1,1.11)" text-anchor="middle" font-family="'Liberation Sans', Arial, Helvetica, sans-serif" font-size="22" font-weight="bold" fill="#000">14</text><text transform="translate(1758.40,1692.30) scale(1,1.11)" text-anchor="middle" font-family="'Liberation Sans', Arial, Helvetica, sans-serif" font-size="22" font-weight="bold" fill="#000">21</text>
<text transform="translate(1307.90,1283.80) scale(1,1.04)" text-anchor="start" font-family="'Liberation Sans', Arial, Helvetica, sans-serif" font-size="47.5" fill="#000">F</text>
<rect x="1840.3" y="196.60" width="27.9" height="18.30" fill="#fff" stroke="#000" stroke-width="2.4" rx="0.8"/>
<rect x="1840.3" y="227.50" width="27.9" height="18.30" fill="#5e5e5e" stroke="#000" stroke-width="2.4" rx="0.8"/>
<text transform="translate(1884.60,215.20) scale(1,1.093)" text-anchor="start" font-family="'Liberation Sans', Arial, Helvetica, sans-serif" font-size="24.6" fill="#000">OM</text>
<text transform="translate(1884.60,245.70) scale(1,1.093)" text-anchor="start" font-family="'Liberation Sans', Arial, Helvetica, sans-serif" font-size="24.6" fill="#000">OM+BMP2</text>
<rect x="1840.3" y="725.90" width="27.9" height="18.30" fill="#fff" stroke="#000" stroke-width="2.4" rx="0.8"/>
<rect x="1840.3" y="756.90" width="27.9" height="18.30" fill="#5e5e5e" stroke="#000" stroke-width="2.4" rx="0.8"/>
<text transform="translate(1884.60,744.00) scale(1,1.093)" text-anchor="start" font-family="'Liberation Sans', Arial, Helvetica, sans-serif" font-size="24.6" fill="#000">OM</text>
<text transform="translate(1884.60,775.00) scale(1,1.093)" text-anchor="start" font-family="'Liberation Sans', Arial, Helvetica, sans-serif" font-size="24.6" fill="#000">OM+BMP2</text>
<rect x="1840.3" y="1255.40" width="27.9" height="18.30" fill="#fff" stroke="#000" stroke-width="2.4" rx="0.8"/>
<rect x="1840.3" y="1286.60" width="27.9" height="18.30" fill="#5e5e5e" stroke="#000" stroke-width="2.4" rx="0.8"/>
<text transform="translate(1884.60,1273.50) scale(1,1.093)" text-anchor="start" font-family="'Liberation Sans', Arial, Helvetica, sans-serif" font-size="24.6" fill="#000">OM</text>
<text transform="translate(1884.60,1304.50) scale(1,1.093)" text-anchor="start" font-family="'Liberation Sans', Arial, Helvetica, sans-serif" font-size="24.6" fill="#000">OM+BMP2</text>
<text transform="translate(1316.40,46.60) scale(1,1.04)" text-anchor="middle" font-family="'Liberation Sans', Arial, Helvetica, sans-serif" font-size="61" font-weight="bold" fill="#000">ALK-6 (%)</text>
<text transform="translate(1272.20,152.00) scale(1,1.04)" text-anchor="middle" font-family="'Liberation Sans', Arial, Helvetica, sans-serif" font-size="61" font-weight="bold" fill="#000">DSC</text>
<text transform="translate(896.45,186.90) scale(1,1.04)" text-anchor="middle" font-family="'Liberation Sans', Arial, Helvetica, sans-serif" font-size="61" font-weight="bold" fill="#000">P3</text>
<text transform="translate(1544.90,179.40) scale(1,1.04)" text-anchor="middle" font-family="'Liberation Sans', Arial, Helvetica, sans-serif" font-size="61" font-weight="bold" fill="#000">P10</text>
<text transform="translate(1269.75,685.00) scale(1,1.04)" text-anchor="middle" font-family="'Liberation Sans', Arial, Helvetica, sans-serif" font-size="61" font-weight="bold" fill="#000">ASC</text>
<text transform="translate(1266.60,1217.30) scale(1,1.04)" text-anchor="middle" font-family="'Liberation Sans', Arial, Helvetica, sans-serif" font-size="61" font-weight="bold" fill="#000">FB</text>
<text transform="translate(1275.95,1779.70) scale(1,0.99)" text-anchor="middle" font-family="'Liberation Sans', Arial, Helvetica, sans-serif" font-size="62" fill="#000">days</text>
<clipPath id="clip11"><rect x="40.80" y="277.00" width="487.90" height="249.80"/></clipPath>
<g clip-path="url(#clip11)">
<path d="M41.30,525.70L41.30,455.14L42.52,455.14L42.52,454.62L43.73,454.62L43.73,444.59L44.95,444.59L44.95,447.71L46.17,447.71L46.17,439.68L47.38,439.68L47.38,434.97L48.60,434.97L48.60,456.68L49.82,456.68L49.82,437.55L51.04,437.55L51.04,453.82L52.25,453.82L52.25,463.34L53.47,463.34L53.47,459.29L54.69,459.29L54.69,457.82L55.90,457.82L55.90,451.28L57.12,451.28L57.12,467.75L58.34,467.75L58.34,465.30L59.55,465.30L59.55,472.92L60.77,472.92L60.77,476.43L61.99,476.43L61.99,474.39L63.21,474.39L63.21,477.54L64.42,477.54L64.42,476.64L65.64,476.64L65.64,478.49L66.86,478.49L66.86,473.86L68.07,473.86L68.07,469.89L69.29,469.89L69.29,480.35L70.51,480.35L70.51,477.73L71.72,477.73L71.72,474.24L72.94,474.24L72.94,476.59L74.16,476.59L74.16,478.99L75.38,478.99L75.38,483.10L76.59,483.10L76.59,470.36L77.81,470.36L77.81,479.14L79.03,479.14L79.03,481.18L80.24,481.18L80.24,484.30L81.46,484.30L81.46,484.58L82.68,484.58L82.68,487.89L83.89,487.89L83.90,484.20L85.11,484.20L85.11,486.47L86.33,486.47L86.33,490.69L87.55,490.69L87.55,484.83L88.76,484.83L88.76,482.87L89.98,482.87L89.98,489.80L91.20,489.80L91.20,492.56L92.41,492.56L92.41,486.76L93.63,486.76L93.63,500.41L94.85,500.41L94.85,496.70L96.06,496.70L96.06,498.71L97.28,498.71L97.28,500.61L98.50,500.61L98.50,503.62L99.72,503.62L99.72,501.79L100.93,501.79L100.93,506.17L102.15,506.17L102.15,504.72L103.37,504.72L103.37,506.37L104.58,506.37L104.58,508.81L105.80,508.81L105.80,507.30L107.02,507.30L107.02,511.05L108.23,511.05L108.23,511.90L109.45,511.90L109.45,510.32L110.67,510.32L110.67,511.51L111.89,511.51L111.89,512.57L113.10,512.57L113.10,513.27L114.32,513.27L114.32,512.33L115.54,512.33L115.54,514.86L116.75,514.86L116.75,516.71L117.97,516.71L117.97,516.17L119.19,516.17L119.19,515.51L120.41,515.51L120.41,515.56L121.62,515.56L121.62,520.19L122.84,520.19L122.84,517.88L124.06,517.88L124.06,518.31L125.27,518.31L125.27,520.71L126.49,520.71L126.49,519.12L127.71,519.12L127.71,520.56L128.92,520.56L128.92,521.78L130.14,521.78L130.14,521.49L131.36,521.49L131.36,522.75L132.58,522.75L132.57,520.74L133.79,520.74L133.79,520.15L135.01,520.15L135.01,519.78L136.23,519.78L136.23,519.03L137.44,519.03L137.44,519.88L138.66,519.88L138.66,520.57L139.88,520.57L139.88,519.90L141.09,519.90L141.09,522.36L142.31,522.36L142.31,521.01L143.53,521.01L143.53,521.93L144.75,521.93L144.75,523.89L145.96,523.89L145.96,520.38L147.18,520.38L147.18,520.87L148.40,520.87L148.40,520.22L149.61,520.22L149.61,522.06L150.83,522.06L150.83,521.73L152.05,521.73L152.05,520.87L153.26,520.87L153.26,521.30L154.48,521.30L154.48,522.83L155.70,522.83L155.70,522.37L156.92,522.37L156.92,521.50L158.13,521.50L158.13,520.33L159.35,520.33L159.35,523.95L160.57,523.95L160.57,524.25L161.78,524.25L161.78,523.93L163.00,523.93L163.00,523.98L164.22,523.98L164.22,522.54L165.43,522.54L165.43,524.05L166.65,524.05L166.65,522.25L167.87,522.25L167.87,521.89L169.09,521.89L169.09,522.15L170.30,522.15L170.30,524.36L171.52,524.36L171.52,523.54L172.74,523.54L172.74,522.23L173.95,522.23L173.95,525.31L175.17,525.31L175.17,525.30L176.39,525.30L176.39,523.54L177.60,523.54L177.60,523.29L178.82,523.29L178.82,525.63L180.04,525.63L180.04,525.70L181.26,525.70L181.25,525.70L182.47,525.70L182.47,525.70L183.69,525.70L183.69,525.70L184.91,525.70L184.91,525.70L186.12,525.70L186.12,525.70L187.34,525.70L187.34,525.70L188.56,525.70L188.56,525.70L189.77,525.70L189.77,525.70L190.99,525.70L190.99,525.70L192.21,525.70L192.21,525.70L193.43,525.70L193.43,525.70L194.64,525.70L194.64,525.70L195.86,525.70L195.86,525.70L197.08,525.70L197.08,525.70L198.29,525.70L198.29,525.70L199.51,525.70L199.51,525.70L200.73,525.70L200.73,525.70L201.94,525.70L201.94,525.70L203.16,525.70L203.16,525.70L204.38,525.70L204.38,525.70L205.59,525.70L205.60,525.70L206.81,525.70L206.81,525.70L208.03,525.70L208.03,525.70L209.25,525.70L209.25,525.70L210.46,525.70L210.46,525.70L211.68,525.70L211.68,525.70L212.90,525.70L212.90,525.70L214.11,525.70L214.11,525.70L215.33,525.70L215.33,525.70L216.55,525.70L216.55,525.70L217.77,525.70L217.76,525.70L218.98,525.70L218.98,525.70L220.20,525.70L220.20,525.70L221.42,525.70L221.42,525.70L222.63,525.70L222.63,525.70L223.85,525.70L223.85,525.70L225.07,525.70L225.07,525.70L226.28,525.70L226.28,525.70L227.50,525.70L227.50,525.70L228.72,525.70L228.72,525.70L229.94,525.70L229.94,525.70L231.15,525.70L231.15,525.70L232.37,525.70L232.37,525.70L233.59,525.70L233.59,525.70L234.80,525.70L234.80,525.70L236.02,525.70L236.02,525.70L237.24,525.70L237.24,525.70L238.45,525.70L238.45,525.70L239.67,525.70L239.67,525.70L240.89,525.70L240.89,525.70L242.11,525.70L242.11,525.70L243.32,525.70L243.32,525.70L244.54,525.70L244.54,525.70L245.76,525.70L245.76,525.70L246.97,525.70L246.97,525.70L248.19,525.70L248.19,525.70L249.41,525.70L249.41,525.70L250.62,525.70L250.62,525.70L251.84,525.70L251.84,525.70L253.06,525.70L253.06,525.70L254.28,525.70L254.28,525.70L255.49,525.70L255.49,525.70L256.71,525.70L256.71,525.70L257.93,525.70L257.93,525.70L259.14,525.70L259.14,525.70L260.36,525.70L260.36,525.70L261.58,525.70L261.58,525.70L262.79,525.70L262.79,525.70L264.01,525.70L264.01,525.70L265.23,525.70L265.23,525.70L266.44,525.70L266.44,525.70L267.66,525.70L267.66,525.70L268.88,525.70L268.88,525.70L270.10,525.70L270.10,525.70L271.31,525.70L271.31,525.70L272.53,525.70L272.53,525.70L273.75,525.70L273.75,525.70L274.96,525.70L274.96,525.70L276.18,525.70L276.18,525.70L277.40,525.70L277.40,525.70L278.62,525.70L278.62,525.70L279.83,525.70L279.83,525.70L281.05,525.70L281.05,525.70L282.27,525.70L282.27,525.70L283.48,525.70L283.48,525.70L284.70,525.70L284.70,525.70L285.92,525.70L285.92,525.70L287.13,525.70L287.13,525.70L288.35,525.70L288.35,525.70L289.57,525.70L289.57,525.70L290.79,525.70L290.79,525.70L292.00,525.70L292.00,525.70L293.22,525.70L293.22,525.70L294.44,525.70L294.44,525.70L295.65,525.70L295.65,525.70L296.87,525.70L296.87,525.70L298.09,525.70L298.09,525.70L299.30,525.70L299.30,525.70L300.52,525.70L300.52,525.70L301.74,525.70L301.74,525.70L302.96,525.70L302.96,525.70L304.17,525.70L304.17,525.70L305.39,525.70L305.39,525.70L306.61,525.70L306.61,525.70L307.82,525.70L307.82,525.70L309.04,525.70L309.04,525.70L310.26,525.70L310.26,525.70L311.47,525.70L311.47,525.70L312.69,525.70L312.69,525.70L313.91,525.70L313.91,525.70L315.12,525.70L315.13,525.70L316.34,525.70L316.34,525.70L317.56,525.70L317.56,525.70L318.78,525.70L318.78,525.70L319.99,525.70L319.99,525.70L321.21,525.70L321.21,525.70L322.43,525.70L322.43,525.70L323.64,525.70L323.64,525.70L324.86,525.70L324.86,525.70L326.08,525.70L326.08,525.70L327.30,525.70L327.30,525.70L328.51,525.70L328.51,525.70L329.73,525.70L329.73,525.70L330.95,525.70L330.95,525.70L332.16,525.70L332.16,525.70L333.38,525.70L333.38,525.70L334.60,525.70L334.60,525.70L335.81,525.70L335.81,525.70L337.03,525.70L337.03,525.70L338.25,525.70L338.25,525.70L339.47,525.70L339.47,525.70L340.68,525.70L340.68,525.70L341.90,525.70L341.90,525.70L343.12,525.70L343.12,525.70L344.33,525.70L344.33,525.70L345.55,525.70L345.55,525.70L346.77,525.70L346.77,525.70L347.98,525.70L347.98,525.70L349.20,525.70L349.20,525.70L350.42,525.70L350.42,525.70L351.63,525.70L351.64,525.70L352.85,525.70L352.85,525.70L354.07,525.70L354.07,525.70L355.29,525.70L355.29,525.70L356.50,525.70L356.50,525.70L357.72,525.70L357.72,525.70L358.94,525.70L358.94,525.70L360.15,525.70L360.15,525.70L361.37,525.70L361.37,525.70L362.59,525.70L362.59,525.70L363.81,525.70L363.81,525.70L365.02,525.70L365.02,525.70L366.24,525.70L366.24,525.70L367.46,525.70L367.46,525.70L368.67,525.70L368.67,525.70L369.89,525.70L369.89,525.70L371.11,525.70L371.11,525.70L372.32,525.70L372.32,525.70L373.54,525.70L373.54,525.70L374.76,525.70L374.76,525.70L375.98,525.70L375.98,525.70L377.19,525.70L377.19,525.70L378.41,525.70L378.41,525.70L379.63,525.70L379.63,525.70L380.84,525.70L380.84,525.70L382.06,525.70L382.06,525.70L383.28,525.70L383.28,525.70L384.49,525.70L384.49,525.70L385.71,525.70L385.71,525.70L386.93,525.70L386.93,525.70L388.15,525.70L388.15,525.70L389.36,525.70L389.36,525.70L390.58,525.70L390.58,525.70L391.80,525.70L391.80,525.70L393.01,525.70L393.01,525.70L394.23,525.70L394.23,525.70L395.45,525.70L395.45,525.70L396.66,525.70L396.66,525.70L397.88,525.70L397.88,525.70L399.10,525.70L399.10,525.70L400.31,525.70L400.32,525.70L401.53,525.70L401.53,525.70L402.75,525.70L402.75,525.70L403.97,525.70L403.97,525.70L405.18,525.70L405.18,525.70L406.40,525.70L406.40,525.70L407.62,525.70L407.62,525.70L408.83,525.70L408.83,525.70L410.05,525.70L410.05,525.70L411.27,525.70L411.27,525.70L412.49,525.70L412.49,525.70L413.70,525.70L413.70,525.70L414.92,525.70L414.92,525.70L416.14,525.70L416.14,525.70L417.35,525.70L417.35,525.70L418.57,525.70L418.57,525.70L419.79,525.70L419.79,525.70L421.00,525.70L421.00,525.70L422.22,525.70L422.22,525.70L423.44,525.70L423.44,525.70L424.66,525.70L424.66,525.70L425.87,525.70L425.87,525.70L427.09,525.70L427.09,525.70L428.31,525.70L428.31,525.70L429.52,525.70L429.52,525.70L430.74,525.70L430.74,525.70L431.96,525.70L431.96,525.70L433.17,525.70L433.17,525.70L434.39,525.70L434.39,525.70L435.61,525.70L435.61,525.70L436.83,525.70L436.83,525.70L438.04,525.70L438.04,525.70L439.26,525.70L439.26,525.70L440.48,525.70L440.48,525.70L441.69,525.70L441.69,525.70L442.91,525.70L442.91,525.70L444.13,525.70L444.13,525.70L445.34,525.70L445.34,525.70L446.56,525.70L446.56,525.70L447.78,525.70L447.78,525.70L449.00,525.70L449.00,525.70L450.21,525.70L450.21,525.70L451.43,525.70L451.43,525.70L452.65,525.70L452.65,525.70L453.86,525.70L453.86,525.70L455.08,525.70L455.08,525.70L456.30,525.70L456.30,525.70L457.51,525.70L457.51,525.70L458.73,525.70L458.73,525.70L459.95,525.70L459.95,525.70L461.17,525.70L461.17,525.70L462.38,525.70L462.38,525.70L463.60,525.70L463.60,525.70L464.82,525.70L464.82,525.70L466.03,525.70L466.03,525.70L467.25,525.70L467.25,525.70L468.47,525.70L468.47,525.70L469.68,525.70L469.68,525.70L470.90,525.70L470.90,525.70L472.12,525.70L472.12,525.70L473.34,525.70L473.34,525.70L474.55,525.70L474.55,525.70L475.77,525.70L475.77,525.70L476.99,525.70L476.99,525.70L478.20,525.70L478.20,525.70L479.42,525.70L479.42,525.70L480.64,525.70L480.64,525.70L481.85,525.70L481.85,525.70L483.07,525.70L483.07,525.70L484.29,525.70L484.29,525.70L485.51,525.70L485.51,525.70L486.72,525.70L486.72,525.70L487.94,525.70L487.94,525.70L489.16,525.70L489.16,525.70L490.37,525.70L490.37,525.70L491.59,525.70L491.59,525.70L492.81,525.70L492.81,525.70L494.02,525.70L494.02,525.70L495.24,525.70L495.24,525.70L496.46,525.70L496.46,525.70L497.68,525.70L497.68,525.70L498.89,525.70L498.89,525.70L500.11,525.70L500.11,525.70L501.33,525.70L501.33,525.70L502.54,525.70L502.54,525.70L503.76,525.70L503.76,525.70L504.98,525.70L504.98,525.70L506.19,525.70L506.19,525.70L507.41,525.70L507.41,525.70L508.63,525.70L508.63,525.70L509.85,525.70L509.85,525.70L511.06,525.70L511.06,525.70L512.28,525.70L512.28,525.70L513.50,525.70L513.50,525.70L514.71,525.70L514.71,525.70L515.93,525.70L515.93,525.70L517.15,525.70L517.15,525.70L518.36,525.70L518.36,525.70L519.58,525.70L519.58,525.70L520.80,525.70L520.80,525.70L522.01,525.70L522.01,525.70L523.23,525.70L523.23,525.70L524.45,525.70L524.45,525.70L525.67,525.70L525.67,525.70L526.88,525.70L526.88,525.70L528.10,525.70L528.10,525.70Z" fill="#6600cc" stroke="none"/>
<path d="M41.30,525.70L41.30,455.14L42.52,455.14L42.52,454.62L43.73,454.62L43.73,444.59L44.95,444.59L44.95,447.71L46.17,447.71L46.17,439.68L47.38,439.68L47.38,434.97L48.60,434.97L48.60,456.68L49.82,456.68L49.82,437.55L51.04,437.55L51.04,453.82L52.25,453.82L52.25,463.34L53.47,463.34L53.47,459.29L54.69,459.29L54.69,457.82L55.90,457.82L55.90,451.28L57.12,451.28L57.12,467.75L58.34,467.75L58.34,465.30L59.55,465.30L59.55,472.92L60.77,472.92L60.77,476.43L61.99,476.43L61.99,474.39L63.21,474.39L63.21,477.54L64.42,477.54L64.42,476.64L65.64,476.64L65.64,478.49L66.86,478.49L66.86,473.86L68.07,473.86L68.07,469.89L69.29,469.89L69.29,480.35L70.51,480.35L70.51,477.73L71.72,477.73L71.72,474.24L72.94,474.24L72.94,476.59L74.16,476.59L74.16,478.99L75.38,478.99L75.38,483.10L76.59,483.10L76.59,470.36L77.81,470.36L77.81,479.14L79.03,479.14L79.03,481.18L80.24,481.18L80.24,484.30L81.46,484.30L81.46,484.58L82.68,484.58L82.68,487.89L83.89,487.89L83.90,484.20L85.11,484.20L85.11,486.47L86.33,486.47L86.33,490.69L87.55,490.69L87.55,484.83L88.76,484.83L88.76,482.87L89.98,482.87L89.98,489.80L91.20,489.80L91.20,492.56L92.41,492.56L92.41,486.76L93.63,486.76L93.63,500.41L94.85,500.41L94.85,496.70L96.06,496.70L96.06,498.71L97.28,498.71L97.28,500.61L98.50,500.61L98.50,503.62L99.72,503.62L99.72,501.79L100.93,501.79L100.93,506.17L102.15,506.17L102.15,504.72L103.37,504.72L103.37,506.37L104.58,506.37L104.58,508.81L105.80,508.81L105.80,507.30L107.02,507.30L107.02,511.05L108.23,511.05L108.23,511.90L109.45,511.90L109.45,510.32L110.67,510.32L110.67,511.51L111.89,511.51L111.89,512.57L113.10,512.57L113.10,513.27L114.32,513.27L114.32,512.33L115.54,512.33L115.54,514.86L116.75,514.86L116.75,516.71L117.97,516.71L117.97,516.17L119.19,516.17L119.19,515.51L120.41,515.51L120.41,515.56L121.62,515.56L121.62,520.19L122.84,520.19L122.84,517.88L124.06,517.88L124.06,518.31L125.27,518.31L125.27,520.71L126.49,520.71L126.49,519.12L127.71,519.12L127.71,520.56L128.92,520.56L128.92,521.78L130.14,521.78L130.14,521.49L131.36,521.49L131.36,522.75L132.58,522.75L132.57,520.74L133.79,520.74L133.79,520.15L135.01,520.15L135.01,519.78L136.23,519.78L136.23,519.03L137.44,519.03L137.44,519.88L138.66,519.88L138.66,520.57L139.88,520.57L139.88,519.90L141.09,519.90L141.09,522.36L142.31,522.36L142.31,521.01L143.53,521.01L143.53,521.93L144.75,521.93L144.75,523.89L145.96,523.89L145.96,520.38L147.18,520.38L147.18,520.87L148.40,520.87L148.40,520.22L149.61,520.22L149.61,522.06L150.83,522.06L150.83,521.73L152.05,521.73L152.05,520.87L153.26,520.87L153.26,521.30L154.48,521.30L154.48,522.83L155.70,522.83L155.70,522.37L156.92,522.37L156.92,521.50L158.13,521.50L158.13,520.33L159.35,520.33L159.35,523.95L160.57,523.95L160.57,524.25L161.78,524.25L161.78,523.93L163.00,523.93L163.00,523.98L164.22,523.98L164.22,522.54L165.43,522.54L165.43,524.05L166.65,524.05L166.65,522.25L167.87,522.25L167.87,521.89L169.09,521.89L169.09,522.15L170.30,522.15L170.30,524.36L171.52,524.36L171.52,523.54L172.74,523.54L172.74,522.23L173.95,522.23L173.95,525.31L175.17,525.31L175.17,525.30L176.39,525.30L176.39,523.54L177.60,523.54L177.60,523.29L178.82,523.29L178.82,525.63L180.04,525.63L180.04,525.70L181.26,525.70L181.25,525.70L182.47,525.70L182.47,525.70L183.69,525.70L183.69,525.70L184.91,525.70L184.91,525.70L186.12,525.70L186.12,525.70L187.34,525.70L187.34,525.70L188.56,525.70L188.56,525.70L189.77,525.70L189.77,525.70L190.99,525.70L190.99,525.70L192.21,525.70L192.21,525.70L193.43,525.70L193.43,525.70L194.64,525.70L194.64,525.70L195.86,525.70L195.86,525.70L197.08,525.70L197.08,525.70L198.29,525.70L198.29,525.70L199.51,525.70L199.51,525.70L200.73,525.70L200.73,525.70L201.94,525.70L201.94,525.70L203.16,525.70L203.16,525.70L204.38,525.70L204.38,525.70L205.59,525.70L205.60,525.70L206.81,525.70L206.81,525.70L208.03,525.70L208.03,525.70L209.25,525.70L209.25,525.70L210.46,525.70L210.46,525.70L211.68,525.70L211.68,525.70L212.90,525.70L212.90,525.70L214.11,525.70L214.11,525.70L215.33,525.70L215.33,525.70L216.55,525.70L216.55,525.70L217.77,525.70L217.76,525.70L218.98,525.70L218.98,525.70L220.20,525.70L220.20,525.70L221.42,525.70L221.42,525.70L222.63,525.70L222.63,525.70L223.85,525.70L223.85,525.70L225.07,525.70L225.07,525.70L226.28,525.70L226.28,525.70L227.50,525.70L227.50,525.70L228.72,525.70L228.72,525.70L229.94,525.70L229.94,525.70L231.15,525.70L231.15,525.70L232.37,525.70L232.37,525.70L233.59,525.70L233.59,525.70L234.80,525.70L234.80,525.70L236.02,525.70L236.02,525.70L237.24,525.70L237.24,525.70L238.45,525.70L238.45,525.70L239.67,525.70L239.67,525.70L240.89,525.70L240.89,525.70L242.11,525.70L242.11,525.70L243.32,525.70L243.32,525.70L244.54,525.70L244.54,525.70L245.76,525.70L245.76,525.70L246.97,525.70L246.97,525.70L248.19,525.70L248.19,525.70L249.41,525.70L249.41,525.70L250.62,525.70L250.62,525.70L251.84,525.70L251.84,525.70L253.06,525.70L253.06,525.70L254.28,525.70L254.28,525.70L255.49,525.70L255.49,525.70L256.71,525.70L256.71,525.70L257.93,525.70L257.93,525.70L259.14,525.70L259.14,525.70L260.36,525.70L260.36,525.70L261.58,525.70L261.58,525.70L262.79,525.70L262.79,525.70L264.01,525.70L264.01,525.70L265.23,525.70L265.23,525.70L266.44,525.70L266.44,525.70L267.66,525.70L267.66,525.70L268.88,525.70L268.88,525.70L270.10,525.70L270.10,525.70L271.31,525.70L271.31,525.70L272.53,525.70L272.53,525.70L273.75,525.70L273.75,525.70L274.96,525.70L274.96,525.70L276.18,525.70L276.18,525.70L277.40,525.70L277.40,525.70L278.62,525.70L278.62,525.70L279.83,525.70L279.83,525.70L281.05,525.70L281.05,525.70L282.27,525.70L282.27,525.70L283.48,525.70L283.48,525.70L284.70,525.70L284.70,525.70L285.92,525.70L285.92,525.70L287.13,525.70L287.13,525.70L288.35,525.70L288.35,525.70L289.57,525.70L289.57,525.70L290.79,525.70L290.79,525.70L292.00,525.70L292.00,525.70L293.22,525.70L293.22,525.70L294.44,525.70L294.44,525.70L295.65,525.70L295.65,525.70L296.87,525.70L296.87,525.70L298.09,525.70L298.09,525.70L299.30,525.70L299.30,525.70L300.52,525.70L300.52,525.70L301.74,525.70L301.74,525.70L302.96,525.70L302.96,525.70L304.17,525.70L304.17,525.70L305.39,525.70L305.39,525.70L306.61,525.70L306.61,525.70L307.82,525.70L307.82,525.70L309.04,525.70L309.04,525.70L310.26,525.70L310.26,525.70L311.47,525.70L311.47,525.70L312.69,525.70L312.69,525.70L313.91,525.70L313.91,525.70L315.12,525.70L315.13,525.70L316.34,525.70L316.34,525.70L317.56,525.70L317.56,525.70L318.78,525.70L318.78,525.70L319.99,525.70L319.99,525.70L321.21,525.70L321.21,525.70L322.43,525.70L322.43,525.70L323.64,525.70L323.64,525.70L324.86,525.70L324.86,525.70L326.08,525.70L326.08,525.70L327.30,525.70L327.30,525.70L328.51,525.70L328.51,525.70L329.73,525.70L329.73,525.70L330.95,525.70L330.95,525.70L332.16,525.70L332.16,525.70L333.38,525.70L333.38,525.70L334.60,525.70L334.60,525.70L335.81,525.70L335.81,525.70L337.03,525.70L337.03,525.70L338.25,525.70L338.25,525.70L339.47,525.70L339.47,525.70L340.68,525.70L340.68,525.70L341.90,525.70L341.90,525.70L343.12,525.70L343.12,525.70L344.33,525.70L344.33,525.70L345.55,525.70L345.55,525.70L346.77,525.70L346.77,525.70L347.98,525.70L347.98,525.70L349.20,525.70L349.20,525.70L350.42,525.70L350.42,525.70L351.63,525.70L351.64,525.70L352.85,525.70L352.85,525.70L354.07,525.70L354.07,525.70L355.29,525.70L355.29,525.70L356.50,525.70L356.50,525.70L357.72,525.70L357.72,525.70L358.94,525.70L358.94,525.70L360.15,525.70L360.15,525.70L361.37,525.70L361.37,525.70L362.59,525.70L362.59,525.70L363.81,525.70L363.81,525.70L365.02,525.70L365.02,525.70L366.24,525.70L366.24,525.70L367.46,525.70L367.46,525.70L368.67,525.70L368.67,525.70L369.89,525.70L369.89,525.70L371.11,525.70L371.11,525.70L372.32,525.70L372.32,525.70L373.54,525.70L373.54,525.70L374.76,525.70L374.76,525.70L375.98,525.70L375.98,525.70L377.19,525.70L377.19,525.70L378.41,525.70L378.41,525.70L379.63,525.70L379.63,525.70L380.84,525.70L380.84,525.70L382.06,525.70L382.06,525.70L383.28,525.70L383.28,525.70L384.49,525.70L384.49,525.70L385.71,525.70L385.71,525.70L386.93,525.70L386.93,525.70L388.15,525.70L388.15,525.70L389.36,525.70L389.36,525.70L390.58,525.70L390.58,525.70L391.80,525.70L391.80,525.70L393.01,525.70L393.01,525.70L394.23,525.70L394.23,525.70L395.45,525.70L395.45,525.70L396.66,525.70L396.66,525.70L397.88,525.70L397.88,525.70L399.10,525.70L399.10,525.70L400.31,525.70L400.32,525.70L401.53,525.70L401.53,525.70L402.75,525.70L402.75,525.70L403.97,525.70L403.97,525.70L405.18,525.70L405.18,525.70L406.40,525.70L406.40,525.70L407.62,525.70L407.62,525.70L408.83,525.70L408.83,525.70L410.05,525.70L410.05,525.70L411.27,525.70L411.27,525.70L412.49,525.70L412.49,525.70L413.70,525.70L413.70,525.70L414.92,525.70L414.92,525.70L416.14,525.70L416.14,525.70L417.35,525.70L417.35,525.70L418.57,525.70L418.57,525.70L419.79,525.70L419.79,525.70L421.00,525.70L421.00,525.70L422.22,525.70L422.22,525.70L423.44,525.70L423.44,525.70L424.66,525.70L424.66,525.70L425.87,525.70L425.87,525.70L427.09,525.70L427.09,525.70L428.31,525.70L428.31,525.70L429.52,525.70L429.52,525.70L430.74,525.70L430.74,525.70L431.96,525.70L431.96,525.70L433.17,525.70L433.17,525.70L434.39,525.70L434.39,525.70L435.61,525.70L435.61,525.70L436.83,525.70L436.83,525.70L438.04,525.70L438.04,525.70L439.26,525.70L439.26,525.70L440.48,525.70L440.48,525.70L441.69,525.70L441.69,525.70L442.91,525.70L442.91,525.70L444.13,525.70L444.13,525.70L445.34,525.70L445.34,525.70L446.56,525.70L446.56,525.70L447.78,525.70L447.78,525.70L449.00,525.70L449.00,525.70L450.21,525.70L450.21,525.70L451.43,525.70L451.43,525.70L452.65,525.70L452.65,525.70L453.86,525.70L453.86,525.70L455.08,525.70L455.08,525.70L456.30,525.70L456.30,525.70L457.51,525.70L457.51,525.70L458.73,525.70L458.73,525.70L459.95,525.70L459.95,525.70L461.17,525.70L461.17,525.70L462.38,525.70L462.38,525.70L463.60,525.70L463.60,525.70L464.82,525.70L464.82,525.70L466.03,525.70L466.03,525.70L467.25,525.70L467.25,525.70L468.47,525.70L468.47,525.70L469.68,525.70L469.68,525.70L470.90,525.70L470.90,525.70L472.12,525.70L472.12,525.70L473.34,525.70L473.34,525.70L474.55,525.70L474.55,525.70L475.77,525.70L475.77,525.70L476.99,525.70L476.99,525.70L478.20,525.70L478.20,525.70L479.42,525.70L479.42,525.70L480.64,525.70L480.64,525.70L481.85,525.70L481.85,525.70L483.07,525.70L483.07,525.70L484.29,525.70L484.29,525.70L485.51,525.70L485.51,525.70L486.72,525.70L486.72,525.70L487.94,525.70L487.94,525.70L489.16,525.70L489.16,525.70L490.37,525.70L490.37,525.70L491.59,525.70L491.59,525.70L492.81,525.70L492.81,525.70L494.02,525.70L494.02,525.70L495.24,525.70L495.24,525.70L496.46,525.70L496.46,525.70L497.68,525.70L497.68,525.70L498.89,525.70L498.89,525.70L500.11,525.70L500.11,525.70L501.33,525.70L501.33,525.70L502.54,525.70L502.54,525.70L503.76,525.70L503.76,525.70L504.98,525.70L504.98,525.70L506.19,525.70L506.19,525.70L507.41,525.70L507.41,525.70L508.63,525.70L508.63,525.70L509.85,525.70L509.85,525.70L511.06,525.70L511.06,525.70L512.28,525.70L512.28,525.70L513.50,525.70L513.50,525.70L514.71,525.70L514.71,525.70L515.93,525.70L515.93,525.70L517.15,525.70L517.15,525.70L518.36,525.70L518.36,525.70L519.58,525.70L519.58,525.70L520.80,525.70L520.80,525.70L522.01,525.70L522.01,525.70L523.23,525.70L523.23,525.70L524.45,525.70L524.45,525.70L525.67,525.70L525.67,525.70L526.88,525.70L526.88,525.70L528.10,525.70L528.10,525.70Z" fill="none" stroke="#000" stroke-width="1.3"/>
<path d="M41.30,433.98L43.33,433.98L43.33,468.81L45.36,468.81L45.36,464.32L47.38,464.32L47.38,483.48L49.41,483.48L49.41,477.13L51.44,477.13L51.44,492.51L53.47,492.51L53.47,487.48L55.50,487.48L55.50,493.14L57.53,493.14L57.53,483.41L59.55,483.41L59.55,481.83L61.58,481.83L61.58,487.12L63.61,487.12L63.61,484.06L65.64,484.06L65.64,479.32L67.67,479.32L67.67,482.35L69.70,482.35L69.70,476.80L71.72,476.80L71.72,478.73L73.75,478.73L73.75,471.17L75.78,471.17L75.78,474.43L77.81,474.43L77.81,471.89L79.84,471.89L79.84,469.74L81.87,469.74L81.87,471.85L83.89,471.85L83.89,476.69L85.92,476.69L85.92,473.90L87.95,473.90L87.95,470.97L89.98,470.97L89.98,471.26L92.01,471.26L92.01,462.24L94.04,462.24L94.04,481.87L96.06,481.87L96.06,463.71L98.09,463.71L98.09,464.53L100.12,464.53L100.12,477.50L102.15,477.50L102.15,459.46L104.18,459.46L104.18,456.06L106.21,456.06L106.21,486.93L108.23,486.93L108.23,478.61L110.26,478.61L110.26,465.22L112.29,465.22L112.29,463.23L114.32,463.23L114.32,468.59L116.35,468.59L116.35,449.03L118.38,449.03L118.38,472.43L120.41,472.43L120.41,478.89L122.43,478.89L122.43,491.76L124.46,491.76L124.46,472.27L126.49,472.27L126.49,481.69L128.52,481.69L128.52,473.47L130.55,473.47L130.55,481.13L132.58,481.13L132.57,481.19L134.60,481.19L134.60,483.11L136.63,483.11L136.63,492.35L138.66,492.35L138.66,484.57L140.69,484.57L140.69,496.45L142.72,496.45L142.72,500.64L144.75,500.64L144.75,497.26L146.77,497.26L146.77,491.03L148.80,491.03L148.80,482.76L150.83,482.76L150.83,487.67L152.86,487.67L152.86,491.42L154.89,491.42L154.89,494.40L156.91,494.40L156.91,503.04L158.94,503.04L158.94,500.43L160.97,500.43L160.97,494.36L163.00,494.36L163.00,500.63L165.03,500.63L165.03,509.17L167.06,509.17L167.06,507.88L169.09,507.88L169.08,510.14L171.11,510.14L171.11,509.71L173.14,509.71L173.14,510.54L175.17,510.54L175.17,511.31L177.20,511.31L177.20,501.15L179.23,501.15L179.23,504.69L181.26,504.69L181.25,515.89L183.28,515.89L183.28,517.46L185.31,517.46L185.31,517.41L187.34,517.41L187.34,519.55L189.37,519.55L189.37,520.31L191.40,520.31L191.40,518.03L193.42,518.03L193.43,519.93L195.45,519.93L195.45,520.31L197.48,520.31L197.48,519.89L199.51,519.89L199.51,519.67L201.54,519.67L201.54,522.57L203.57,522.57L203.57,519.34L205.59,519.34L205.59,524.74L207.62,524.74L207.62,521.67L209.65,521.67L209.65,524.01L211.68,524.01L211.68,521.46L213.71,521.46L213.71,521.88L215.74,521.88L215.74,525.70L217.77,525.70L217.76,522.36L219.79,522.36L219.79,520.25L221.82,520.25L221.82,520.19L223.85,520.19L223.85,524.75L225.88,524.75L225.88,523.15L227.91,523.15L227.91,521.85L229.93,521.85L229.94,521.30L231.96,521.30L231.96,524.74L233.99,524.74L233.99,523.06L236.02,523.06L236.02,525.70L238.05,525.70L238.05,525.70L240.08,525.70L240.08,525.70L242.10,525.70L242.11,525.70L244.13,525.70L244.13,525.70L246.16,525.70L246.16,525.70L248.19,525.70L248.19,525.70L250.22,525.70L250.22,525.70L252.25,525.70L252.25,525.70L254.28,525.70L254.27,520.60L256.30,520.60L256.30,524.50L258.33,524.50L258.33,525.70L260.36,525.70L260.36,522.16L262.39,522.16L262.39,523.80L264.42,523.80L264.42,525.70L266.44,525.70L266.44,525.70L268.47,525.70L268.47,525.70L270.50,525.70L270.50,525.70L272.53,525.70L272.53,525.70L274.56,525.70L274.56,525.70L276.59,525.70L276.59,525.70L278.61,525.70L278.62,525.70L280.64,525.70L280.64,525.70L282.67,525.70L282.67,525.70L284.70,525.70L284.70,525.70L286.73,525.70L286.73,525.70L288.76,525.70L288.76,525.70L290.78,525.70L290.78,525.70L292.81,525.70L292.81,525.70L294.84,525.70L294.84,525.70L296.87,525.70L296.87,525.70L298.90,525.70L298.90,525.70L300.93,525.70L300.93,525.70L302.95,525.70L302.95,525.70L304.98,525.70L304.98,525.70L307.01,525.70L307.01,525.70L309.04,525.70L309.04,525.70L311.07,525.70L311.07,525.70L313.10,525.70L313.10,525.70L315.12,525.70L315.12,525.70L317.15,525.70L317.15,525.70L319.18,525.70L319.18,525.70L321.21,525.70L321.21,525.70L323.24,525.70L323.24,525.70L325.27,525.70L325.27,525.70L327.29,525.70L327.30,525.70L329.32,525.70L329.32,525.70L331.35,525.70L331.35,525.70L333.38,525.70L333.38,525.70L335.41,525.70L335.41,525.70L337.44,525.70L337.44,525.70L339.46,525.70L339.47,525.70L341.49,525.70L341.49,525.70L343.52,525.70L343.52,525.70L345.55,525.70L345.55,525.70L347.58,525.70L347.58,525.70L349.61,525.70L349.61,525.70L351.63,525.70L351.63,525.70L353.66,525.70L353.66,525.70L355.69,525.70L355.69,525.70L357.72,525.70L357.72,525.70L359.75,525.70L359.75,525.70L361.78,525.70L361.78,525.70L363.81,525.70L363.81,525.70L365.83,525.70L365.83,525.70L367.86,525.70L367.86,525.70L369.89,525.70L369.89,525.70L371.92,525.70L371.92,525.70L373.95,525.70L373.95,525.70L375.97,525.70L375.98,525.70L378.00,525.70L378.00,525.70L380.03,525.70L380.03,525.70L382.06,525.70L382.06,525.70L384.09,525.70L384.09,525.70L386.12,525.70L386.12,525.70L388.14,525.70L388.14,525.70L390.17,525.70L390.17,525.70L392.20,525.70L392.20,525.70L394.23,525.70L394.23,525.70L396.26,525.70L396.26,525.70L398.29,525.70L398.29,525.70L400.31,525.70L400.31,525.70L402.34,525.70L402.34,525.70L404.37,525.70L404.37,525.70L406.40,525.70L406.40,525.70L408.43,525.70L408.43,525.70L410.46,525.70L410.46,525.70L412.48,525.70L412.49,525.70L414.51,525.70L414.51,525.70L416.54,525.70L416.54,525.70L418.57,525.70L418.57,525.70L420.60,525.70L420.60,525.70L422.63,525.70L422.63,525.70L424.65,525.70L424.66,525.70L426.68,525.70L426.68,525.70L428.71,525.70L428.71,525.70L430.74,525.70L430.74,525.70L432.77,525.70L432.77,525.70L434.80,525.70L434.80,525.70L436.82,525.70L436.82,525.70L438.85,525.70L438.85,525.70L440.88,525.70L440.88,525.70L442.91,525.70L442.91,525.70L444.94,525.70L444.94,525.70L446.97,525.70L446.97,525.70L449.00,525.70L449.00,525.70L451.02,525.70L451.02,525.70L453.05,525.70L453.05,525.70L455.08,525.70L455.08,525.70L457.11,525.70L457.11,525.70L459.14,525.70L459.14,525.70L461.16,525.70L461.17,525.70L463.19,525.70L463.19,525.70L465.22,525.70L465.22,525.70L467.25,525.70L467.25,525.70L469.28,525.70L469.28,525.70L471.31,525.70L471.31,525.70L473.33,525.70L473.34,525.70L475.36,525.70L475.36,525.70L477.39,525.70L477.39,525.70L479.42,525.70L479.42,525.70L481.45,525.70L481.45,525.70L483.48,525.70L483.48,525.70L485.50,525.70L485.50,525.70L487.53,525.70L487.53,525.70L489.56,525.70L489.56,525.70L491.59,525.70L491.59,525.70L493.62,525.70L493.62,525.70L495.65,525.70L495.65,525.70L497.68,525.70L497.68,525.70L499.70,525.70L499.70,525.70L501.73,525.70L501.73,525.70L503.76,525.70L503.76,525.70L505.79,525.70L505.79,525.70L507.82,525.70L507.82,525.70L509.84,525.70L509.85,525.70L511.87,525.70L511.87,525.70L513.90,525.70L513.90,525.70L515.93,525.70L515.93,525.70L517.96,525.70L517.96,525.70L519.99,525.70L519.99,525.70L522.01,525.70L522.01,525.70L524.04,525.70L524.04,525.70L526.07,525.70L526.07,525.70L528.10,525.70" fill="none" stroke="#0000dd" stroke-width="2.7" stroke-linejoin="miter" stroke-linecap="square"/>
<rect x="40.60" y="275.00" width="3.20" height="250.70" fill="#0000dd"/>
<rect x="43.80" y="370.03" width="1.90" height="155.67" fill="#0000dd"/>
</g>
<rect x="40.80" y="277.00" width="487.90" height="249.80" fill="none" stroke="#000" stroke-width="1.25"/>
<path d="M33.80,525.70H40.80M36.60,515.82H40.80M36.60,505.93H40.80M36.60,496.05H40.80M36.60,486.16H40.80M33.80,476.28H40.80M36.60,466.40H40.80M36.60,456.51H40.80M36.60,446.63H40.80M36.60,436.74H40.80M33.80,426.86H40.80M36.60,416.98H40.80M36.60,407.09H40.80M36.60,397.21H40.80M36.60,387.32H40.80M33.80,377.44H40.80M36.60,367.56H40.80M36.60,357.67H40.80M36.60,347.79H40.80M36.60,337.90H40.80M33.80,328.02H40.80M36.60,318.14H40.80M36.60,308.25H40.80M36.60,298.37H40.80M36.60,288.48H40.80M33.80,278.60H40.80M41.30,526.80V533.80M77.94,526.80V531.20M99.37,526.80V531.20M114.57,526.80V531.20M126.36,526.80V531.20M136.00,526.80V531.20M144.15,526.80V531.20M151.21,526.80V531.20M157.43,526.80V531.20M163.00,526.80V533.80M199.64,526.80V531.20M221.07,526.80V531.20M236.27,526.80V531.20M248.06,526.80V531.20M257.70,526.80V531.20M265.85,526.80V531.20M272.91,526.80V531.20M279.13,526.80V531.20M284.70,526.80V533.80M321.34,526.80V531.20M342.77,526.80V531.20M357.97,526.80V531.20M369.76,526.80V531.20M379.40,526.80V531.20M387.55,526.80V531.20M394.61,526.80V531.20M400.83,526.80V531.20M406.40,526.80V533.80M443.04,526.80V531.20M464.47,526.80V531.20M479.67,526.80V531.20M491.46,526.80V531.20M501.10,526.80V531.20M509.25,526.80V531.20M516.31,526.80V531.20M522.53,526.80V531.20M528.10,526.80V533.80" stroke="#000" stroke-width="1.25" fill="none"/>
<g font-family="'Liberation Sans', Arial, Helvetica, sans-serif" font-size="13.6" fill="#000"><text transform="translate(28.70,525.70) rotate(-90) scale(1,1.16)" text-anchor="middle">0</text><text transform="translate(28.70,476.28) rotate(-90) scale(1,1.16)" text-anchor="middle">20</text><text transform="translate(28.70,426.86) rotate(-90) scale(1,1.16)" text-anchor="middle">40</text><text transform="translate(28.70,377.44) rotate(-90) scale(1,1.16)" text-anchor="middle">60</text><text transform="translate(28.70,328.02) rotate(-90) scale(1,1.16)" text-anchor="middle">80</text><text transform="translate(28.70,278.60) rotate(-90) scale(1,1.16)" text-anchor="middle">100</text></g>
<g font-family="'Liberation Sans', Arial, Helvetica, sans-serif" font-size="13.4" fill="#000"><text transform="translate(45.30,550.20) scale(1,1.08)" text-anchor="end">10</text><text x="45.60" y="544.10" font-size="13">0</text><text transform="translate(167.00,550.20) scale(1,1.08)" text-anchor="end">10</text><text x="167.30" y="544.10" font-size="13">1</text><text transform="translate(288.70,550.20) scale(1,1.08)" text-anchor="end">10</text><text x="289.00" y="544.10" font-size="13">2</text><text transform="translate(410.40,550.20) scale(1,1.08)" text-anchor="end">10</text><text x="410.70" y="544.10" font-size="13">3</text><text transform="translate(532.10,550.20) scale(1,1.08)" text-anchor="end">10</text><text x="532.40" y="544.10" font-size="13">4</text></g>
<text x="283.60" y="564.00" text-anchor="middle" font-family="'Liberation Sans', Arial, Helvetica, sans-serif" font-size="13" fill="#000">FL4-H</text>
<text transform="translate(13.20,404.90) rotate(-90) scale(1,1.12)" text-anchor="middle" font-family="'Liberation Sans', Arial, Helvetica, sans-serif" font-size="13.9" fill="#000">Counts</text>
<path d="M115.20,387.70V413.30M115.20,400.40H453.40M453.40,387.70V413.30" stroke="#000" stroke-width="1.3" fill="none"/>
<text x="294.40" y="415.00" text-anchor="middle" font-family="'Liberation Sans', Arial, Helvetica, sans-serif" font-size="13" fill="#000">M1</text>
<text x="265.75" y="270.10" text-anchor="middle" font-family="'Liberation Sans', Arial, Helvetica, sans-serif" font-weight="bold" font-size="27.6"><tspan fill="#6e2aa2">control</tspan><tspan fill="#000">/</tspan><tspan fill="#0030ff">OM</tspan></text>
<clipPath id="clip22"><rect x="45.30" y="816.90" width="485.70" height="237.40"/></clipPath>
<g clip-path="url(#clip22)">
<path d="M46.90,1053.60L46.90,982.98L48.11,982.98L48.11,998.01L49.32,998.01L49.32,1002.95L50.52,1002.95L50.52,998.14L51.73,998.14L51.73,997.55L52.94,997.55L52.94,1003.46L54.15,1003.46L54.15,1008.50L55.36,1008.50L55.36,1008.06L56.56,1008.06L56.56,1014.59L57.77,1014.59L57.77,1017.60L58.98,1017.60L58.98,1010.65L60.19,1010.65L60.19,1006.61L61.40,1006.61L61.40,1007.14L62.60,1007.14L62.60,991.69L63.81,991.69L63.81,1011.88L65.02,1011.88L65.02,1013.81L66.23,1013.81L66.23,1010.62L67.44,1010.62L67.44,1012.84L68.64,1012.84L68.64,1013.84L69.85,1013.84L69.85,1010.69L71.06,1010.69L71.06,1019.29L72.27,1019.29L72.27,1020.29L73.48,1020.29L73.48,1019.07L74.68,1019.07L74.68,1021.01L75.89,1021.01L75.89,1017.32L77.10,1017.32L77.10,1015.32L78.31,1015.32L78.31,1014.12L79.52,1014.12L79.52,1012.23L80.72,1012.23L80.72,1012.20L81.93,1012.20L81.93,1021.26L83.14,1021.26L83.14,1014.67L84.35,1014.67L84.35,1010.19L85.56,1010.19L85.56,1007.15L86.76,1007.15L86.76,1006.89L87.97,1006.89L87.97,1004.49L89.18,1004.49L89.18,989.44L90.39,989.44L90.39,994.44L91.60,994.44L91.60,992.93L92.80,992.93L92.80,986.93L94.01,986.93L94.01,992.41L95.22,992.41L95.22,990.78L96.43,990.78L96.43,992.28L97.64,992.28L97.64,998.30L98.84,998.30L98.84,994.29L100.05,994.29L100.05,974.92L101.26,974.92L101.26,978.20L102.47,978.20L102.47,975.94L103.68,975.94L103.68,960.74L104.88,960.74L104.88,979.14L106.09,979.14L106.09,987.76L107.30,987.76L107.30,989.09L108.51,989.09L108.51,991.61L109.72,991.61L109.72,990.86L110.92,990.86L110.92,981.51L112.13,981.51L112.13,980.68L113.34,980.68L113.34,984.20L114.55,984.20L114.55,992.78L115.76,992.78L115.76,983.47L116.96,983.47L116.96,983.07L118.17,983.07L118.17,990.13L119.38,990.13L119.38,983.37L120.59,983.37L120.59,1000.27L121.80,1000.27L121.80,997.19L123.00,997.19L123.00,982.03L124.21,982.03L124.21,992.74L125.42,992.74L125.42,986.33L126.63,986.33L126.63,998.84L127.84,998.84L127.84,992.69L129.04,992.69L129.04,992.62L130.25,992.62L130.25,995.37L131.46,995.37L131.46,997.96L132.67,997.96L132.67,997.97L133.88,997.97L133.88,997.78L135.08,997.78L135.08,992.07L136.29,992.07L136.29,991.53L137.50,991.53L137.50,997.63L138.71,997.63L138.71,1005.19L139.92,1005.19L139.92,999.83L141.12,999.83L141.12,1004.27L142.33,1004.27L142.33,1003.09L143.54,1003.09L143.54,994.59L144.75,994.59L144.75,1003.73L145.96,1003.73L145.96,1009.90L147.16,1009.90L147.16,1013.68L148.37,1013.68L148.37,1007.77L149.58,1007.77L149.58,1012.90L150.79,1012.90L150.79,1015.12L152.00,1015.12L152.00,1014.82L153.20,1014.82L153.20,1017.73L154.41,1017.73L154.41,1021.87L155.62,1021.87L155.62,1024.44L156.83,1024.44L156.83,1025.51L158.04,1025.51L158.04,1022.36L159.24,1022.36L159.24,1025.76L160.45,1025.76L160.45,1025.16L161.66,1025.16L161.66,1027.81L162.87,1027.81L162.87,1030.32L164.08,1030.32L164.08,1026.60L165.28,1026.60L165.28,1028.31L166.49,1028.31L166.49,1030.40L167.70,1030.40L167.70,1022.19L168.91,1022.19L168.91,1030.51L170.12,1030.51L170.12,1034.45L171.32,1034.45L171.32,1032.08L172.53,1032.08L172.53,1035.38L173.74,1035.38L173.74,1037.60L174.95,1037.60L174.95,1039.78L176.16,1039.78L176.16,1040.82L177.36,1040.82L177.36,1039.65L178.57,1039.65L178.57,1041.84L179.78,1041.84L179.78,1042.36L180.99,1042.36L180.99,1041.78L182.20,1041.78L182.20,1039.78L183.40,1039.78L183.40,1041.73L184.61,1041.73L184.61,1042.92L185.82,1042.92L185.82,1043.03L187.03,1043.03L187.03,1045.37L188.24,1045.37L188.24,1046.01L189.44,1046.01L189.44,1048.58L190.65,1048.58L190.65,1047.81L191.86,1047.81L191.86,1048.07L193.07,1048.07L193.07,1048.90L194.28,1048.90L194.28,1050.12L195.48,1050.12L195.48,1046.18L196.69,1046.18L196.69,1047.53L197.90,1047.53L197.90,1048.89L199.11,1048.89L199.11,1047.71L200.32,1047.71L200.32,1049.93L201.52,1049.93L201.52,1049.60L202.73,1049.60L202.73,1048.31L203.94,1048.31L203.94,1047.58L205.15,1047.58L205.15,1045.41L206.36,1045.41L206.36,1045.55L207.56,1045.55L207.56,1047.94L208.77,1047.94L208.77,1046.41L209.98,1046.41L209.98,1047.72L211.19,1047.72L211.19,1046.79L212.40,1046.79L212.40,1046.66L213.60,1046.66L213.60,1048.07L214.81,1048.07L214.81,1047.77L216.02,1047.77L216.02,1047.54L217.23,1047.54L217.23,1048.08L218.44,1048.08L218.44,1048.50L219.64,1048.50L219.64,1049.57L220.85,1049.57L220.85,1050.76L222.06,1050.76L222.06,1049.85L223.27,1049.85L223.27,1050.21L224.48,1050.21L224.48,1050.86L225.68,1050.86L225.68,1050.59L226.89,1050.59L226.89,1052.21L228.10,1052.21L228.10,1050.54L229.31,1050.54L229.31,1050.76L230.52,1050.76L230.52,1049.69L231.72,1049.69L231.72,1049.32L232.93,1049.32L232.93,1050.04L234.14,1050.04L234.14,1051.98L235.35,1051.98L235.35,1050.86L236.56,1050.86L236.56,1051.77L237.76,1051.77L237.76,1050.62L238.97,1050.62L238.97,1050.57L240.18,1050.57L240.18,1051.29L241.39,1051.29L241.39,1051.37L242.60,1051.37L242.60,1053.47L243.80,1053.47L243.80,1051.35L245.01,1051.35L245.01,1050.83L246.22,1050.83L246.22,1052.20L247.43,1052.20L247.43,1052.97L248.64,1052.97L248.64,1053.60L249.84,1053.60L249.84,1053.14L251.05,1053.14L251.05,1052.51L252.26,1052.51L252.26,1053.60L253.47,1053.60L253.47,1053.60L254.68,1053.60L254.68,1053.60L255.88,1053.60L255.88,1053.60L257.09,1053.60L257.09,1053.60L258.30,1053.60L258.30,1053.60L259.51,1053.60L259.51,1053.60L260.72,1053.60L260.72,1053.60L261.92,1053.60L261.92,1053.60L263.13,1053.60L263.13,1053.60L264.34,1053.60L264.34,1053.60L265.55,1053.60L265.55,1053.60L266.76,1053.60L266.76,1053.60L267.96,1053.60L267.96,1053.60L269.17,1053.60L269.17,1053.60L270.38,1053.60L270.38,1053.60L271.59,1053.60L271.59,1053.60L272.80,1053.60L272.80,1053.60L274.00,1053.60L274.00,1053.60L275.21,1053.60L275.21,1053.60L276.42,1053.60L276.42,1053.60L277.63,1053.60L277.63,1053.60L278.84,1053.60L278.84,1053.60L280.04,1053.60L280.04,1053.60L281.25,1053.60L281.25,1053.60L282.46,1053.60L282.46,1053.60L283.67,1053.60L283.67,1053.60L284.88,1053.60L284.88,1053.60L286.08,1053.60L286.08,1053.60L287.29,1053.60L287.29,1053.60L288.50,1053.60L288.50,1053.60L289.71,1053.60L289.71,1053.60L290.92,1053.60L290.92,1053.60L292.12,1053.60L292.12,1053.60L293.33,1053.60L293.33,1053.60L294.54,1053.60L294.54,1053.60L295.75,1053.60L295.75,1053.60L296.96,1053.60L296.96,1053.60L298.16,1053.60L298.16,1053.60L299.37,1053.60L299.37,1053.60L300.58,1053.60L300.58,1053.60L301.79,1053.60L301.79,1053.60L303.00,1053.60L303.00,1053.60L304.20,1053.60L304.20,1053.60L305.41,1053.60L305.41,1053.60L306.62,1053.60L306.62,1053.60L307.83,1053.60L307.83,1053.60L309.04,1053.60L309.04,1053.60L310.24,1053.60L310.24,1053.60L311.45,1053.60L311.45,1053.60L312.66,1053.60L312.66,1053.60L313.87,1053.60L313.87,1053.60L315.08,1053.60L315.08,1053.60L316.28,1053.60L316.28,1053.60L317.49,1053.60L317.49,1053.60L318.70,1053.60L318.70,1053.60L319.91,1053.60L319.91,1053.60L321.12,1053.60L321.12,1053.60L322.32,1053.60L322.32,1053.60L323.53,1053.60L323.53,1053.60L324.74,1053.60L324.74,1053.60L325.95,1053.60L325.95,1053.60L327.16,1053.60L327.16,1053.60L328.36,1053.60L328.36,1053.60L329.57,1053.60L329.57,1053.60L330.78,1053.60L330.78,1053.60L331.99,1053.60L331.99,1053.60L333.20,1053.60L333.20,1053.60L334.40,1053.60L334.40,1053.60L335.61,1053.60L335.61,1053.60L336.82,1053.60L336.82,1053.60L338.03,1053.60L338.03,1053.60L339.24,1053.60L339.24,1053.60L340.44,1053.60L340.44,1053.60L341.65,1053.60L341.65,1053.60L342.86,1053.60L342.86,1053.60L344.07,1053.60L344.07,1053.60L345.28,1053.60L345.28,1053.60L346.48,1053.60L346.48,1053.60L347.69,1053.60L347.69,1053.60L348.90,1053.60L348.90,1053.60L350.11,1053.60L350.11,1053.60L351.32,1053.60L351.32,1053.60L352.52,1053.60L352.52,1053.60L353.73,1053.60L353.73,1053.60L354.94,1053.60L354.94,1053.60L356.15,1053.60L356.15,1053.60L357.36,1053.60L357.36,1053.60L358.56,1053.60L358.56,1053.60L359.77,1053.60L359.77,1053.60L360.98,1053.60L360.98,1053.60L362.19,1053.60L362.19,1053.60L363.40,1053.60L363.40,1053.60L364.60,1053.60L364.60,1053.60L365.81,1053.60L365.81,1053.60L367.02,1053.60L367.02,1053.60L368.23,1053.60L368.23,1053.60L369.44,1053.60L369.44,1053.60L370.64,1053.60L370.64,1053.60L371.85,1053.60L371.85,1053.60L373.06,1053.60L373.06,1053.60L374.27,1053.60L374.27,1053.60L375.48,1053.60L375.48,1053.60L376.68,1053.60L376.68,1053.60L377.89,1053.60L377.89,1053.60L379.10,1053.60L379.10,1053.60L380.31,1053.60L380.31,1053.60L381.52,1053.60L381.52,1053.60L382.72,1053.60L382.72,1053.60L383.93,1053.60L383.93,1053.60L385.14,1053.60L385.14,1053.60L386.35,1053.60L386.35,1053.60L387.56,1053.60L387.56,1053.60L388.76,1053.60L388.76,1053.60L389.97,1053.60L389.97,1053.60L391.18,1053.60L391.18,1053.60L392.39,1053.60L392.39,1053.60L393.60,1053.60L393.60,1053.60L394.80,1053.60L394.80,1053.60L396.01,1053.60L396.01,1053.60L397.22,1053.60L397.22,1053.60L398.43,1053.60L398.43,1053.60L399.64,1053.60L399.64,1053.60L400.84,1053.60L400.84,1053.60L402.05,1053.60L402.05,1053.60L403.26,1053.60L403.26,1053.60L404.47,1053.60L404.47,1053.60L405.68,1053.60L405.68,1053.60L406.88,1053.60L406.88,1053.60L408.09,1053.60L408.09,1053.60L409.30,1053.60L409.30,1053.60L410.51,1053.60L410.51,1053.60L411.72,1053.60L411.72,1053.60L412.92,1053.60L412.92,1053.60L414.13,1053.60L414.13,1053.60L415.34,1053.60L415.34,1053.60L416.55,1053.60L416.55,1053.60L417.76,1053.60L417.76,1053.60L418.96,1053.60L418.96,1053.60L420.17,1053.60L420.17,1053.60L421.38,1053.60L421.38,1053.60L422.59,1053.60L422.59,1053.60L423.80,1053.60L423.80,1053.60L425.00,1053.60L425.00,1053.60L426.21,1053.60L426.21,1053.60L427.42,1053.60L427.42,1053.60L428.63,1053.60L428.63,1053.60L429.84,1053.60L429.84,1053.60L431.04,1053.60L431.04,1053.60L432.25,1053.60L432.25,1053.60L433.46,1053.60L433.46,1053.60L434.67,1053.60L434.67,1053.60L435.88,1053.60L435.88,1053.60L437.08,1053.60L437.08,1053.60L438.29,1053.60L438.29,1053.60L439.50,1053.60L439.50,1053.60L440.71,1053.60L440.71,1053.60L441.92,1053.60L441.92,1053.60L443.12,1053.60L443.12,1053.60L444.33,1053.60L444.33,1053.60L445.54,1053.60L445.54,1053.60L446.75,1053.60L446.75,1053.60L447.96,1053.60L447.96,1053.60L449.16,1053.60L449.16,1053.60L450.37,1053.60L450.37,1053.60L451.58,1053.60L451.58,1053.60L452.79,1053.60L452.79,1053.60L454.00,1053.60L454.00,1053.60L455.20,1053.60L455.20,1053.60L456.41,1053.60L456.41,1053.60L457.62,1053.60L457.62,1053.60L458.83,1053.60L458.83,1053.60L460.04,1053.60L460.04,1053.60L461.24,1053.60L461.24,1053.60L462.45,1053.60L462.45,1053.60L463.66,1053.60L463.66,1053.60L464.87,1053.60L464.87,1053.60L466.08,1053.60L466.08,1053.60L467.28,1053.60L467.28,1053.60L468.49,1053.60L468.49,1053.60L469.70,1053.60L469.70,1053.60L470.91,1053.60L470.91,1053.60L472.12,1053.60L472.12,1053.60L473.32,1053.60L473.32,1053.60L474.53,1053.60L474.53,1053.60L475.74,1053.60L475.74,1053.60L476.95,1053.60L476.95,1053.60L478.16,1053.60L478.16,1053.60L479.36,1053.60L479.36,1053.60L480.57,1053.60L480.57,1053.60L481.78,1053.60L481.78,1053.60L482.99,1053.60L482.99,1053.60L484.20,1053.60L484.20,1053.60L485.40,1053.60L485.40,1053.60L486.61,1053.60L486.61,1053.60L487.82,1053.60L487.82,1053.60L489.03,1053.60L489.03,1053.60L490.24,1053.60L490.24,1053.60L491.44,1053.60L491.44,1053.60L492.65,1053.60L492.65,1053.60L493.86,1053.60L493.86,1053.60L495.07,1053.60L495.07,1053.60L496.28,1053.60L496.28,1053.60L497.48,1053.60L497.48,1053.60L498.69,1053.60L498.69,1053.60L499.90,1053.60L499.90,1053.60L501.11,1053.60L501.11,1053.60L502.32,1053.60L502.32,1053.60L503.52,1053.60L503.52,1053.60L504.73,1053.60L504.73,1053.60L505.94,1053.60L505.94,1053.60L507.15,1053.60L507.15,1053.60L508.36,1053.60L508.36,1053.60L509.56,1053.60L509.56,1053.60L510.77,1053.60L510.77,1053.60L511.98,1053.60L511.98,1053.60L513.19,1053.60L513.19,1053.60L514.40,1053.60L514.40,1053.60L515.60,1053.60L515.60,1053.60L516.81,1053.60L516.81,1053.60L518.02,1053.60L518.02,1053.60L519.23,1053.60L519.23,1053.60L520.44,1053.60L520.44,1053.60L521.64,1053.60L521.64,1053.60L522.85,1053.60L522.85,1053.60L524.06,1053.60L524.06,1053.60L525.27,1053.60L525.27,1053.60L526.48,1053.60L526.48,1053.60L527.68,1053.60L527.68,1053.60L528.89,1053.60L528.89,1053.60L530.10,1053.60L530.10,1053.60L531.31,1053.60L531.31,1053.60Z" fill="#6600cc" stroke="none"/>
<path d="M46.90,1053.60L46.90,982.98L48.11,982.98L48.11,998.01L49.32,998.01L49.32,1002.95L50.52,1002.95L50.52,998.14L51.73,998.14L51.73,997.55L52.94,997.55L52.94,1003.46L54.15,1003.46L54.15,1008.50L55.36,1008.50L55.36,1008.06L56.56,1008.06L56.56,1014.59L57.77,1014.59L57.77,1017.60L58.98,1017.60L58.98,1010.65L60.19,1010.65L60.19,1006.61L61.40,1006.61L61.40,1007.14L62.60,1007.14L62.60,991.69L63.81,991.69L63.81,1011.88L65.02,1011.88L65.02,1013.81L66.23,1013.81L66.23,1010.62L67.44,1010.62L67.44,1012.84L68.64,1012.84L68.64,1013.84L69.85,1013.84L69.85,1010.69L71.06,1010.69L71.06,1019.29L72.27,1019.29L72.27,1020.29L73.48,1020.29L73.48,1019.07L74.68,1019.07L74.68,1021.01L75.89,1021.01L75.89,1017.32L77.10,1017.32L77.10,1015.32L78.31,1015.32L78.31,1014.12L79.52,1014.12L79.52,1012.23L80.72,1012.23L80.72,1012.20L81.93,1012.20L81.93,1021.26L83.14,1021.26L83.14,1014.67L84.35,1014.67L84.35,1010.19L85.56,1010.19L85.56,1007.15L86.76,1007.15L86.76,1006.89L87.97,1006.89L87.97,1004.49L89.18,1004.49L89.18,989.44L90.39,989.44L90.39,994.44L91.60,994.44L91.60,992.93L92.80,992.93L92.80,986.93L94.01,986.93L94.01,992.41L95.22,992.41L95.22,990.78L96.43,990.78L96.43,992.28L97.64,992.28L97.64,998.30L98.84,998.30L98.84,994.29L100.05,994.29L100.05,974.92L101.26,974.92L101.26,978.20L102.47,978.20L102.47,975.94L103.68,975.94L103.68,960.74L104.88,960.74L104.88,979.14L106.09,979.14L106.09,987.76L107.30,987.76L107.30,989.09L108.51,989.09L108.51,991.61L109.72,991.61L109.72,990.86L110.92,990.86L110.92,981.51L112.13,981.51L112.13,980.68L113.34,980.68L113.34,984.20L114.55,984.20L114.55,992.78L115.76,992.78L115.76,983.47L116.96,983.47L116.96,983.07L118.17,983.07L118.17,990.13L119.38,990.13L119.38,983.37L120.59,983.37L120.59,1000.27L121.80,1000.27L121.80,997.19L123.00,997.19L123.00,982.03L124.21,982.03L124.21,992.74L125.42,992.74L125.42,986.33L126.63,986.33L126.63,998.84L127.84,998.84L127.84,992.69L129.04,992.69L129.04,992.62L130.25,992.62L130.25,995.37L131.46,995.37L131.46,997.96L132.67,997.96L132.67,997.97L133.88,997.97L133.88,997.78L135.08,997.78L135.08,992.07L136.29,992.07L136.29,991.53L137.50,991.53L137.50,997.63L138.71,997.63L138.71,1005.19L139.92,1005.19L139.92,999.83L141.12,999.83L141.12,1004.27L142.33,1004.27L142.33,1003.09L143.54,1003.09L143.54,994.59L144.75,994.59L144.75,1003.73L145.96,1003.73L145.96,1009.90L147.16,1009.90L147.16,1013.68L148.37,1013.68L148.37,1007.77L149.58,1007.77L149.58,1012.90L150.79,1012.90L150.79,1015.12L152.00,1015.12L152.00,1014.82L153.20,1014.82L153.20,1017.73L154.41,1017.73L154.41,1021.87L155.62,1021.87L155.62,1024.44L156.83,1024.44L156.83,1025.51L158.04,1025.51L158.04,1022.36L159.24,1022.36L159.24,1025.76L160.45,1025.76L160.45,1025.16L161.66,1025.16L161.66,1027.81L162.87,1027.81L162.87,1030.32L164.08,1030.32L164.08,1026.60L165.28,1026.60L165.28,1028.31L166.49,1028.31L166.49,1030.40L167.70,1030.40L167.70,1022.19L168.91,1022.19L168.91,1030.51L170.12,1030.51L170.12,1034.45L171.32,1034.45L171.32,1032.08L172.53,1032.08L172.53,1035.38L173.74,1035.38L173.74,1037.60L174.95,1037.60L174.95,1039.78L176.16,1039.78L176.16,1040.82L177.36,1040.82L177.36,1039.65L178.57,1039.65L178.57,1041.84L179.78,1041.84L179.78,1042.36L180.99,1042.36L180.99,1041.78L182.20,1041.78L182.20,1039.78L183.40,1039.78L183.40,1041.73L184.61,1041.73L184.61,1042.92L185.82,1042.92L185.82,1043.03L187.03,1043.03L187.03,1045.37L188.24,1045.37L188.24,1046.01L189.44,1046.01L189.44,1048.58L190.65,1048.58L190.65,1047.81L191.86,1047.81L191.86,1048.07L193.07,1048.07L193.07,1048.90L194.28,1048.90L194.28,1050.12L195.48,1050.12L195.48,1046.18L196.69,1046.18L196.69,1047.53L197.90,1047.53L197.90,1048.89L199.11,1048.89L199.11,1047.71L200.32,1047.71L200.32,1049.93L201.52,1049.93L201.52,1049.60L202.73,1049.60L202.73,1048.31L203.94,1048.31L203.94,1047.58L205.15,1047.58L205.15,1045.41L206.36,1045.41L206.36,1045.55L207.56,1045.55L207.56,1047.94L208.77,1047.94L208.77,1046.41L209.98,1046.41L209.98,1047.72L211.19,1047.72L211.19,1046.79L212.40,1046.79L212.40,1046.66L213.60,1046.66L213.60,1048.07L214.81,1048.07L214.81,1047.77L216.02,1047.77L216.02,1047.54L217.23,1047.54L217.23,1048.08L218.44,1048.08L218.44,1048.50L219.64,1048.50L219.64,1049.57L220.85,1049.57L220.85,1050.76L222.06,1050.76L222.06,1049.85L223.27,1049.85L223.27,1050.21L224.48,1050.21L224.48,1050.86L225.68,1050.86L225.68,1050.59L226.89,1050.59L226.89,1052.21L228.10,1052.21L228.10,1050.54L229.31,1050.54L229.31,1050.76L230.52,1050.76L230.52,1049.69L231.72,1049.69L231.72,1049.32L232.93,1049.32L232.93,1050.04L234.14,1050.04L234.14,1051.98L235.35,1051.98L235.35,1050.86L236.56,1050.86L236.56,1051.77L237.76,1051.77L237.76,1050.62L238.97,1050.62L238.97,1050.57L240.18,1050.57L240.18,1051.29L241.39,1051.29L241.39,1051.37L242.60,1051.37L242.60,1053.47L243.80,1053.47L243.80,1051.35L245.01,1051.35L245.01,1050.83L246.22,1050.83L246.22,1052.20L247.43,1052.20L247.43,1052.97L248.64,1052.97L248.64,1053.60L249.84,1053.60L249.84,1053.14L251.05,1053.14L251.05,1052.51L252.26,1052.51L252.26,1053.60L253.47,1053.60L253.47,1053.60L254.68,1053.60L254.68,1053.60L255.88,1053.60L255.88,1053.60L257.09,1053.60L257.09,1053.60L258.30,1053.60L258.30,1053.60L259.51,1053.60L259.51,1053.60L260.72,1053.60L260.72,1053.60L261.92,1053.60L261.92,1053.60L263.13,1053.60L263.13,1053.60L264.34,1053.60L264.34,1053.60L265.55,1053.60L265.55,1053.60L266.76,1053.60L266.76,1053.60L267.96,1053.60L267.96,1053.60L269.17,1053.60L269.17,1053.60L270.38,1053.60L270.38,1053.60L271.59,1053.60L271.59,1053.60L272.80,1053.60L272.80,1053.60L274.00,1053.60L274.00,1053.60L275.21,1053.60L275.21,1053.60L276.42,1053.60L276.42,1053.60L277.63,1053.60L277.63,1053.60L278.84,1053.60L278.84,1053.60L280.04,1053.60L280.04,1053.60L281.25,1053.60L281.25,1053.60L282.46,1053.60L282.46,1053.60L283.67,1053.60L283.67,1053.60L284.88,1053.60L284.88,1053.60L286.08,1053.60L286.08,1053.60L287.29,1053.60L287.29,1053.60L288.50,1053.60L288.50,1053.60L289.71,1053.60L289.71,1053.60L290.92,1053.60L290.92,1053.60L292.12,1053.60L292.12,1053.60L293.33,1053.60L293.33,1053.60L294.54,1053.60L294.54,1053.60L295.75,1053.60L295.75,1053.60L296.96,1053.60L296.96,1053.60L298.16,1053.60L298.16,1053.60L299.37,1053.60L299.37,1053.60L300.58,1053.60L300.58,1053.60L301.79,1053.60L301.79,1053.60L303.00,1053.60L303.00,1053.60L304.20,1053.60L304.20,1053.60L305.41,1053.60L305.41,1053.60L306.62,1053.60L306.62,1053.60L307.83,1053.60L307.83,1053.60L309.04,1053.60L309.04,1053.60L310.24,1053.60L310.24,1053.60L311.45,1053.60L311.45,1053.60L312.66,1053.60L312.66,1053.60L313.87,1053.60L313.87,1053.60L315.08,1053.60L315.08,1053.60L316.28,1053.60L316.28,1053.60L317.49,1053.60L317.49,1053.60L318.70,1053.60L318.70,1053.60L319.91,1053.60L319.91,1053.60L321.12,1053.60L321.12,1053.60L322.32,1053.60L322.32,1053.60L323.53,1053.60L323.53,1053.60L324.74,1053.60L324.74,1053.60L325.95,1053.60L325.95,1053.60L327.16,1053.60L327.16,1053.60L328.36,1053.60L328.36,1053.60L329.57,1053.60L329.57,1053.60L330.78,1053.60L330.78,1053.60L331.99,1053.60L331.99,1053.60L333.20,1053.60L333.20,1053.60L334.40,1053.60L334.40,1053.60L335.61,1053.60L335.61,1053.60L336.82,1053.60L336.82,1053.60L338.03,1053.60L338.03,1053.60L339.24,1053.60L339.24,1053.60L340.44,1053.60L340.44,1053.60L341.65,1053.60L341.65,1053.60L342.86,1053.60L342.86,1053.60L344.07,1053.60L344.07,1053.60L345.28,1053.60L345.28,1053.60L346.48,1053.60L346.48,1053.60L347.69,1053.60L347.69,1053.60L348.90,1053.60L348.90,1053.60L350.11,1053.60L350.11,1053.60L351.32,1053.60L351.32,1053.60L352.52,1053.60L352.52,1053.60L353.73,1053.60L353.73,1053.60L354.94,1053.60L354.94,1053.60L356.15,1053.60L356.15,1053.60L357.36,1053.60L357.36,1053.60L358.56,1053.60L358.56,1053.60L359.77,1053.60L359.77,1053.60L360.98,1053.60L360.98,1053.60L362.19,1053.60L362.19,1053.60L363.40,1053.60L363.40,1053.60L364.60,1053.60L364.60,1053.60L365.81,1053.60L365.81,1053.60L367.02,1053.60L367.02,1053.60L368.23,1053.60L368.23,1053.60L369.44,1053.60L369.44,1053.60L370.64,1053.60L370.64,1053.60L371.85,1053.60L371.85,1053.60L373.06,1053.60L373.06,1053.60L374.27,1053.60L374.27,1053.60L375.48,1053.60L375.48,1053.60L376.68,1053.60L376.68,1053.60L377.89,1053.60L377.89,1053.60L379.10,1053.60L379.10,1053.60L380.31,1053.60L380.31,1053.60L381.52,1053.60L381.52,1053.60L382.72,1053.60L382.72,1053.60L383.93,1053.60L383.93,1053.60L385.14,1053.60L385.14,1053.60L386.35,1053.60L386.35,1053.60L387.56,1053.60L387.56,1053.60L388.76,1053.60L388.76,1053.60L389.97,1053.60L389.97,1053.60L391.18,1053.60L391.18,1053.60L392.39,1053.60L392.39,1053.60L393.60,1053.60L393.60,1053.60L394.80,1053.60L394.80,1053.60L396.01,1053.60L396.01,1053.60L397.22,1053.60L397.22,1053.60L398.43,1053.60L398.43,1053.60L399.64,1053.60L399.64,1053.60L400.84,1053.60L400.84,1053.60L402.05,1053.60L402.05,1053.60L403.26,1053.60L403.26,1053.60L404.47,1053.60L404.47,1053.60L405.68,1053.60L405.68,1053.60L406.88,1053.60L406.88,1053.60L408.09,1053.60L408.09,1053.60L409.30,1053.60L409.30,1053.60L410.51,1053.60L410.51,1053.60L411.72,1053.60L411.72,1053.60L412.92,1053.60L412.92,1053.60L414.13,1053.60L414.13,1053.60L415.34,1053.60L415.34,1053.60L416.55,1053.60L416.55,1053.60L417.76,1053.60L417.76,1053.60L418.96,1053.60L418.96,1053.60L420.17,1053.60L420.17,1053.60L421.38,1053.60L421.38,1053.60L422.59,1053.60L422.59,1053.60L423.80,1053.60L423.80,1053.60L425.00,1053.60L425.00,1053.60L426.21,1053.60L426.21,1053.60L427.42,1053.60L427.42,1053.60L428.63,1053.60L428.63,1053.60L429.84,1053.60L429.84,1053.60L431.04,1053.60L431.04,1053.60L432.25,1053.60L432.25,1053.60L433.46,1053.60L433.46,1053.60L434.67,1053.60L434.67,1053.60L435.88,1053.60L435.88,1053.60L437.08,1053.60L437.08,1053.60L438.29,1053.60L438.29,1053.60L439.50,1053.60L439.50,1053.60L440.71,1053.60L440.71,1053.60L441.92,1053.60L441.92,1053.60L443.12,1053.60L443.12,1053.60L444.33,1053.60L444.33,1053.60L445.54,1053.60L445.54,1053.60L446.75,1053.60L446.75,1053.60L447.96,1053.60L447.96,1053.60L449.16,1053.60L449.16,1053.60L450.37,1053.60L450.37,1053.60L451.58,1053.60L451.58,1053.60L452.79,1053.60L452.79,1053.60L454.00,1053.60L454.00,1053.60L455.20,1053.60L455.20,1053.60L456.41,1053.60L456.41,1053.60L457.62,1053.60L457.62,1053.60L458.83,1053.60L458.83,1053.60L460.04,1053.60L460.04,1053.60L461.24,1053.60L461.24,1053.60L462.45,1053.60L462.45,1053.60L463.66,1053.60L463.66,1053.60L464.87,1053.60L464.87,1053.60L466.08,1053.60L466.08,1053.60L467.28,1053.60L467.28,1053.60L468.49,1053.60L468.49,1053.60L469.70,1053.60L469.70,1053.60L470.91,1053.60L470.91,1053.60L472.12,1053.60L472.12,1053.60L473.32,1053.60L473.32,1053.60L474.53,1053.60L474.53,1053.60L475.74,1053.60L475.74,1053.60L476.95,1053.60L476.95,1053.60L478.16,1053.60L478.16,1053.60L479.36,1053.60L479.36,1053.60L480.57,1053.60L480.57,1053.60L481.78,1053.60L481.78,1053.60L482.99,1053.60L482.99,1053.60L484.20,1053.60L484.20,1053.60L485.40,1053.60L485.40,1053.60L486.61,1053.60L486.61,1053.60L487.82,1053.60L487.82,1053.60L489.03,1053.60L489.03,1053.60L490.24,1053.60L490.24,1053.60L491.44,1053.60L491.44,1053.60L492.65,1053.60L492.65,1053.60L493.86,1053.60L493.86,1053.60L495.07,1053.60L495.07,1053.60L496.28,1053.60L496.28,1053.60L497.48,1053.60L497.48,1053.60L498.69,1053.60L498.69,1053.60L499.90,1053.60L499.90,1053.60L501.11,1053.60L501.11,1053.60L502.32,1053.60L502.32,1053.60L503.52,1053.60L503.52,1053.60L504.73,1053.60L504.73,1053.60L505.94,1053.60L505.94,1053.60L507.15,1053.60L507.15,1053.60L508.36,1053.60L508.36,1053.60L509.56,1053.60L509.56,1053.60L510.77,1053.60L510.77,1053.60L511.98,1053.60L511.98,1053.60L513.19,1053.60L513.19,1053.60L514.40,1053.60L514.40,1053.60L515.60,1053.60L515.60,1053.60L516.81,1053.60L516.81,1053.60L518.02,1053.60L518.02,1053.60L519.23,1053.60L519.23,1053.60L520.44,1053.60L520.44,1053.60L521.64,1053.60L521.64,1053.60L522.85,1053.60L522.85,1053.60L524.06,1053.60L524.06,1053.60L525.27,1053.60L525.27,1053.60L526.48,1053.60L526.48,1053.60L527.68,1053.60L527.68,1053.60L528.89,1053.60L528.89,1053.60L530.10,1053.60L530.10,1053.60L531.31,1053.60L531.31,1053.60Z" fill="none" stroke="#000" stroke-width="1.3"/>
<path d="M46.90,1015.46L48.91,1015.46L48.91,1020.39L50.93,1020.39L50.93,1014.05L52.94,1014.05L52.94,1023.97L54.95,1023.97L54.95,1026.95L56.97,1026.95L56.97,1017.80L58.98,1017.80L58.98,1027.47L60.99,1027.47L60.99,1030.50L63.01,1030.50L63.01,1025.67L65.02,1025.67L65.02,1031.22L67.03,1031.22L67.03,1034.84L69.05,1034.84L69.05,1024.54L71.06,1024.54L71.06,1030.32L73.07,1030.32L73.07,1026.64L75.09,1026.64L75.09,1024.74L77.10,1024.74L77.10,1025.70L79.11,1025.70L79.11,1032.00L81.13,1032.00L81.13,1026.91L83.14,1026.91L83.14,1021.46L85.15,1021.46L85.15,1020.15L87.17,1020.15L87.17,1023.74L89.18,1023.74L89.18,1019.03L91.19,1019.03L91.19,1020.44L93.21,1020.44L93.21,1024.27L95.22,1024.27L95.22,1019.54L97.23,1019.54L97.23,1017.35L99.25,1017.35L99.25,1014.38L101.26,1014.38L101.26,1015.42L103.27,1015.42L103.27,1015.49L105.29,1015.49L105.29,1024.71L107.30,1024.71L107.30,1006.79L109.31,1006.79L109.31,1011.94L111.33,1011.94L111.33,1015.93L113.34,1015.93L113.34,1001.98L115.35,1001.98L115.35,1005.70L117.37,1005.70L117.37,1013.20L119.38,1013.20L119.38,1004.65L121.39,1004.65L121.39,1000.69L123.41,1000.69L123.41,1001.44L125.42,1001.44L125.42,1014.97L127.43,1014.97L127.43,992.57L129.45,992.57L129.45,1008.26L131.46,1008.26L131.46,1017.28L133.47,1017.28L133.47,1013.01L135.49,1013.01L135.49,1021.84L137.50,1021.84L137.50,1002.41L139.51,1002.41L139.51,1007.47L141.53,1007.47L141.53,1000.60L143.54,1000.60L143.54,985.54L145.55,985.54L145.55,1012.29L147.57,1012.29L147.57,1001.28L149.58,1001.28L149.58,1014.60L151.59,1014.60L151.59,1010.75L153.61,1010.75L153.61,999.39L155.62,999.39L155.62,994.54L157.63,994.54L157.63,1005.80L159.65,1005.80L159.65,1008.04L161.66,1008.04L161.66,1011.79L163.67,1011.79L163.67,989.18L165.69,989.18L165.69,1003.63L167.70,1003.63L167.70,1011.13L169.71,1011.13L169.71,998.21L171.73,998.21L171.73,1017.55L173.74,1017.55L173.74,1018.49L175.75,1018.49L175.75,998.71L177.77,998.71L177.77,1003.28L179.78,1003.28L179.78,1017.69L181.79,1017.69L181.79,1009.86L183.81,1009.86L183.81,1020.67L185.82,1020.67L185.82,1020.06L187.83,1020.06L187.83,1015.59L189.85,1015.59L189.85,1018.21L191.86,1018.21L191.86,1020.13L193.87,1020.13L193.87,1002.27L195.89,1002.27L195.89,1009.49L197.90,1009.49L197.90,1021.43L199.91,1021.43L199.91,1024.05L201.93,1024.05L201.93,1022.99L203.94,1022.99L203.94,1027.37L205.95,1027.37L205.95,1030.52L207.97,1030.52L207.97,1031.18L209.98,1031.18L209.98,1028.15L211.99,1028.15L211.99,1032.44L214.01,1032.44L214.01,1029.61L216.02,1029.61L216.02,1036.43L218.03,1036.43L218.03,1040.67L220.05,1040.67L220.05,1040.70L222.06,1040.70L222.06,1041.85L224.07,1041.85L224.07,1041.08L226.09,1041.08L226.09,1043.21L228.10,1043.21L228.10,1043.96L230.11,1043.96L230.11,1036.78L232.13,1036.78L232.13,1037.00L234.14,1037.00L234.14,1038.35L236.15,1038.35L236.15,1041.27L238.17,1041.27L238.17,1045.70L240.18,1045.70L240.18,1043.10L242.19,1043.10L242.19,1044.40L244.21,1044.40L244.21,1044.26L246.22,1044.26L246.22,1046.61L248.23,1046.61L248.23,1046.97L250.25,1046.97L250.25,1046.96L252.26,1046.96L252.26,1050.64L254.27,1050.64L254.27,1050.80L256.29,1050.80L256.29,1050.07L258.30,1050.07L258.30,1049.08L260.31,1049.08L260.31,1048.60L262.33,1048.60L262.33,1050.90L264.34,1050.90L264.34,1053.60L266.35,1053.60L266.35,1050.47L268.37,1050.47L268.37,1048.95L270.38,1048.95L270.38,1049.15L272.39,1049.15L272.39,1052.74L274.41,1052.74L274.41,1047.47L276.42,1047.47L276.42,1049.51L278.43,1049.51L278.43,1051.64L280.45,1051.64L280.45,1048.65L282.46,1048.65L282.46,1053.06L284.47,1053.06L284.47,1050.32L286.49,1050.32L286.49,1053.01L288.50,1053.01L288.50,1051.43L290.51,1051.43L290.51,1053.18L292.53,1053.18L292.53,1053.28L294.54,1053.28L294.54,1053.60L296.55,1053.60L296.55,1052.02L298.57,1052.02L298.57,1050.89L300.58,1050.89L300.58,1052.88L302.59,1052.88L302.59,1053.60L304.61,1053.60L304.61,1053.60L306.62,1053.60L306.62,1053.60L308.63,1053.60L308.63,1053.60L310.65,1053.60L310.65,1053.60L312.66,1053.60L312.66,1053.60L314.67,1053.60L314.67,1053.60L316.69,1053.60L316.69,1053.60L318.70,1053.60L318.70,1053.60L320.71,1053.60L320.71,1053.60L322.73,1053.60L322.73,1053.60L324.74,1053.60L324.74,1053.60L326.75,1053.60L326.75,1053.60L328.77,1053.60L328.77,1053.60L330.78,1053.60L330.78,1053.60L332.79,1053.60L332.79,1053.60L334.81,1053.60L334.81,1053.60L336.82,1053.60L336.82,1053.60L338.83,1053.60L338.83,1053.60L340.85,1053.60L340.85,1053.60L342.86,1053.60L342.86,1053.60L344.87,1053.60L344.87,1053.60L346.89,1053.60L346.89,1053.60L348.90,1053.60L348.90,1053.60L350.91,1053.60L350.91,1053.60L352.93,1053.60L352.93,1053.60L354.94,1053.60L354.94,1053.60L356.95,1053.60L356.95,1053.60L358.97,1053.60L358.97,1053.60L360.98,1053.60L360.98,1053.60L362.99,1053.60L362.99,1053.60L365.01,1053.60L365.01,1053.60L367.02,1053.60L367.02,1053.60L369.03,1053.60L369.03,1053.60L371.05,1053.60L371.05,1053.60L373.06,1053.60L373.06,1053.60L375.07,1053.60L375.07,1053.60L377.09,1053.60L377.09,1053.60L379.10,1053.60L379.10,1053.60L381.11,1053.60L381.11,1053.60L383.13,1053.60L383.13,1053.60L385.14,1053.60L385.14,1053.60L387.15,1053.60L387.15,1053.60L389.17,1053.60L389.17,1053.60L391.18,1053.60L391.18,1053.60L393.19,1053.60L393.19,1053.60L395.21,1053.60L395.21,1053.60L397.22,1053.60L397.22,1053.60L399.23,1053.60L399.23,1053.60L401.25,1053.60L401.25,1053.60L403.26,1053.60L403.26,1053.60L405.27,1053.60L405.27,1053.60L407.29,1053.60L407.29,1053.60L409.30,1053.60L409.30,1053.60L411.31,1053.60L411.31,1053.60L413.33,1053.60L413.33,1053.60L415.34,1053.60L415.34,1053.60L417.35,1053.60L417.35,1053.60L419.37,1053.60L419.37,1053.60L421.38,1053.60L421.38,1053.60L423.39,1053.60L423.39,1053.60L425.41,1053.60L425.41,1053.60L427.42,1053.60L427.42,1053.60L429.43,1053.60L429.43,1053.60L431.45,1053.60L431.45,1053.60L433.46,1053.60L433.46,1053.60L435.47,1053.60L435.47,1053.60L437.49,1053.60L437.49,1053.60L439.50,1053.60L439.50,1053.60L441.51,1053.60L441.51,1053.60L443.53,1053.60L443.53,1053.60L445.54,1053.60L445.54,1053.60L447.55,1053.60L447.55,1053.60L449.57,1053.60L449.57,1053.60L451.58,1053.60L451.58,1053.60L453.59,1053.60L453.59,1053.60L455.61,1053.60L455.61,1053.60L457.62,1053.60L457.62,1053.60L459.63,1053.60L459.63,1053.60L461.65,1053.60L461.65,1053.60L463.66,1053.60L463.66,1053.60L465.67,1053.60L465.67,1053.60L467.69,1053.60L467.69,1053.60L469.70,1053.60L469.70,1053.60L471.71,1053.60L471.71,1053.60L473.73,1053.60L473.73,1053.60L475.74,1053.60L475.74,1053.60L477.75,1053.60L477.75,1053.60L479.77,1053.60L479.77,1053.60L481.78,1053.60L481.78,1053.60L483.79,1053.60L483.79,1053.60L485.81,1053.60L485.81,1053.60L487.82,1053.60L487.82,1053.60L489.83,1053.60L489.83,1053.60L491.85,1053.60L491.85,1053.60L493.86,1053.60L493.86,1053.60L495.87,1053.60L495.87,1053.60L497.89,1053.60L497.89,1053.60L499.90,1053.60L499.90,1053.60L501.91,1053.60L501.91,1053.60L503.93,1053.60L503.93,1053.60L505.94,1053.60L505.94,1053.60L507.95,1053.60L507.95,1053.60L509.97,1053.60L509.97,1053.60L511.98,1053.60L511.98,1053.60L513.99,1053.60L513.99,1053.60L516.01,1053.60L516.01,1053.60L518.02,1053.60L518.02,1053.60L520.03,1053.60L520.03,1053.60L522.05,1053.60L522.05,1053.60L524.06,1053.60L524.06,1053.60L526.07,1053.60L526.07,1053.60L528.09,1053.60L528.09,1053.60L530.10,1053.60" fill="none" stroke="#0000dd" stroke-width="2.7" stroke-linejoin="miter" stroke-linecap="square"/>
<rect x="45.50" y="814.90" width="3.50" height="238.70" fill="#0000dd"/>
<rect x="49.00" y="910.01" width="1.80" height="143.59" fill="#0000dd"/>
</g>
<rect x="45.30" y="816.90" width="485.70" height="237.40" fill="none" stroke="#000" stroke-width="1.25"/>
<path d="M38.30,1053.60H45.30M41.10,1044.18H45.30M41.10,1034.77H45.30M41.10,1025.35H45.30M41.10,1015.94H45.30M38.30,1006.52H45.30M41.10,997.10H45.30M41.10,987.69H45.30M41.10,978.27H45.30M41.10,968.86H45.30M38.30,959.44H45.30M41.10,950.02H45.30M41.10,940.61H45.30M41.10,931.19H45.30M41.10,921.78H45.30M38.30,912.36H45.30M41.10,902.94H45.30M41.10,893.53H45.30M41.10,884.11H45.30M41.10,874.70H45.30M38.30,865.28H45.30M41.10,855.86H45.30M41.10,846.45H45.30M41.10,837.03H45.30M41.10,827.62H45.30M38.30,818.20H45.30M46.90,1054.30V1061.30M83.26,1054.30V1058.70M104.54,1054.30V1058.70M119.63,1054.30V1058.70M131.34,1054.30V1058.70M140.90,1054.30V1058.70M148.99,1054.30V1058.70M155.99,1054.30V1058.70M162.17,1054.30V1058.70M167.70,1054.30V1061.30M204.06,1054.30V1058.70M225.34,1054.30V1058.70M240.43,1054.30V1058.70M252.14,1054.30V1058.70M261.70,1054.30V1058.70M269.79,1054.30V1058.70M276.79,1054.30V1058.70M282.97,1054.30V1058.70M288.50,1054.30V1061.30M324.86,1054.30V1058.70M346.14,1054.30V1058.70M361.23,1054.30V1058.70M372.94,1054.30V1058.70M382.50,1054.30V1058.70M390.59,1054.30V1058.70M397.59,1054.30V1058.70M403.77,1054.30V1058.70M409.30,1054.30V1061.30M445.66,1054.30V1058.70M466.94,1054.30V1058.70M482.03,1054.30V1058.70M493.74,1054.30V1058.70M503.30,1054.30V1058.70M511.39,1054.30V1058.70M518.39,1054.30V1058.70M524.57,1054.30V1058.70M530.10,1054.30V1061.30" stroke="#000" stroke-width="1.25" fill="none"/>
<g font-family="'Liberation Sans', Arial, Helvetica, sans-serif" font-size="13.6" fill="#000"><text transform="translate(33.20,1053.60) rotate(-90) scale(1,1.16)" text-anchor="middle">0</text><text transform="translate(33.20,1006.52) rotate(-90) scale(1,1.16)" text-anchor="middle">20</text><text transform="translate(33.20,959.44) rotate(-90) scale(1,1.16)" text-anchor="middle">40</text><text transform="translate(33.20,912.36) rotate(-90) scale(1,1.16)" text-anchor="middle">60</text><text transform="translate(33.20,865.28) rotate(-90) scale(1,1.16)" text-anchor="middle">80</text><text transform="translate(33.20,818.20) rotate(-90) scale(1,1.16)" text-anchor="middle">100</text></g>
<g font-family="'Liberation Sans', Arial, Helvetica, sans-serif" font-size="13.4" fill="#000"><text transform="translate(50.90,1077.70) scale(1,1.08)" text-anchor="end">10</text><text x="51.20" y="1071.60" font-size="13">0</text><text transform="translate(171.70,1077.70) scale(1,1.08)" text-anchor="end">10</text><text x="172.00" y="1071.60" font-size="13">1</text><text transform="translate(292.50,1077.70) scale(1,1.08)" text-anchor="end">10</text><text x="292.80" y="1071.60" font-size="13">2</text><text transform="translate(413.30,1077.70) scale(1,1.08)" text-anchor="end">10</text><text x="413.60" y="1071.60" font-size="13">3</text><text transform="translate(534.10,1077.70) scale(1,1.08)" text-anchor="end">10</text><text x="534.40" y="1071.60" font-size="13">4</text></g>
<text x="286.80" y="1092.60" text-anchor="middle" font-family="'Liberation Sans', Arial, Helvetica, sans-serif" font-size="13" fill="#000">FL4-H</text>
<text transform="translate(17.80,938.40) rotate(-90) scale(1,1.12)" text-anchor="middle" font-family="'Liberation Sans', Arial, Helvetica, sans-serif" font-size="13.9" fill="#000">Counts</text>
<path d="M192.50,910.20V935.80M192.50,922.90H456.80M456.80,910.20V935.80" stroke="#000" stroke-width="1.3" fill="none"/>
<text x="334.00" y="937.80" text-anchor="middle" font-family="'Liberation Sans', Arial, Helvetica, sans-serif" font-size="13" fill="#000">M1</text>
<text x="268.35" y="800.10" text-anchor="middle" font-family="'Liberation Sans', Arial, Helvetica, sans-serif" font-weight="bold" font-size="28.3"><tspan fill="#6e2aa2">control</tspan><tspan fill="#000">/</tspan><tspan fill="#0030ff">OM</tspan></text>
<clipPath id="clip33"><rect x="40.90" y="1341.60" width="491.20" height="239.90"/></clipPath>
<g clip-path="url(#clip33)">
<path d="M41.90,1580.30L41.90,1540.25L43.12,1540.25L43.12,1535.10L44.34,1535.10L44.34,1534.33L45.56,1534.33L45.56,1539.18L46.78,1539.18L46.78,1539.08L48.00,1539.08L48.00,1537.09L49.22,1537.09L49.22,1534.92L50.44,1534.92L50.44,1534.32L51.66,1534.32L51.66,1530.10L52.88,1530.10L52.88,1532.92L54.10,1532.92L54.10,1534.41L55.32,1534.41L55.32,1535.68L56.54,1535.68L56.54,1527.34L57.76,1527.34L57.76,1536.93L58.98,1536.93L58.98,1536.99L60.20,1536.99L60.20,1539.95L61.42,1539.95L61.42,1538.36L62.64,1538.36L62.64,1536.68L63.86,1536.68L63.86,1534.91L65.08,1534.91L65.08,1539.06L66.30,1539.06L66.30,1535.43L67.52,1535.43L67.52,1538.28L68.74,1538.28L68.74,1520.53L69.96,1520.53L69.96,1537.81L71.18,1537.81L71.18,1536.74L72.40,1536.74L72.40,1535.56L73.62,1535.56L73.62,1538.38L74.84,1538.38L74.84,1534.64L76.06,1534.64L76.06,1525.20L77.28,1525.20L77.28,1523.98L78.50,1523.98L78.50,1526.03L79.72,1526.03L79.72,1526.06L80.94,1526.06L80.94,1527.40L82.16,1527.40L82.16,1517.61L83.38,1517.61L83.38,1509.37L84.60,1509.37L84.60,1519.44L85.82,1519.44L85.82,1518.18L87.04,1518.18L87.04,1505.51L88.26,1505.51L88.26,1509.77L89.48,1509.77L89.48,1501.72L90.70,1501.72L90.70,1500.98L91.92,1500.98L91.92,1497.82L93.14,1497.82L93.14,1504.23L94.36,1504.23L94.36,1469.29L95.58,1469.29L95.58,1486.49L96.80,1486.49L96.80,1493.60L98.02,1493.60L98.02,1477.39L99.24,1477.39L99.24,1465.34L100.46,1465.34L100.46,1490.47L101.68,1490.47L101.68,1485.80L102.90,1485.80L102.90,1485.66L104.12,1485.66L104.12,1477.82L105.34,1477.82L105.34,1480.33L106.56,1480.33L106.56,1483.41L107.78,1483.41L107.78,1472.86L109.00,1472.86L109.00,1475.16L110.22,1475.16L110.22,1458.07L111.44,1458.07L111.44,1474.46L112.66,1474.46L112.66,1468.76L113.88,1468.76L113.88,1461.08L115.10,1461.08L115.10,1455.07L116.32,1455.07L116.32,1456.58L117.54,1456.58L117.54,1460.47L118.76,1460.47L118.76,1472.09L119.98,1472.09L119.98,1463.14L121.20,1463.14L121.20,1451.02L122.42,1451.02L122.42,1457.76L123.64,1457.76L123.64,1461.41L124.86,1461.41L124.86,1442.40L126.08,1442.40L126.08,1459.82L127.30,1459.82L127.30,1440.87L128.52,1440.87L128.52,1466.09L129.74,1466.09L129.74,1472.81L130.96,1472.81L130.96,1452.90L132.18,1452.90L132.18,1449.35L133.40,1449.35L133.40,1439.26L134.62,1439.26L134.62,1463.51L135.84,1463.51L135.84,1452.61L137.06,1452.61L137.06,1465.84L138.28,1465.84L138.28,1467.06L139.50,1467.06L139.50,1458.23L140.72,1458.23L140.72,1469.78L141.94,1469.78L141.94,1463.04L143.16,1463.04L143.16,1470.53L144.38,1470.53L144.38,1469.72L145.60,1469.72L145.60,1461.01L146.82,1461.01L146.82,1470.06L148.04,1470.06L148.04,1475.89L149.26,1475.89L149.26,1474.92L150.48,1474.92L150.48,1472.10L151.70,1472.10L151.70,1471.08L152.92,1471.08L152.92,1472.73L154.14,1472.73L154.14,1472.65L155.36,1472.65L155.36,1480.26L156.58,1480.26L156.58,1491.24L157.80,1491.24L157.80,1490.98L159.02,1490.98L159.02,1497.31L160.24,1497.31L160.24,1495.98L161.46,1495.98L161.46,1502.34L162.68,1502.34L162.68,1505.04L163.90,1505.04L163.90,1506.01L165.12,1506.01L165.12,1512.76L166.34,1512.76L166.34,1508.23L167.56,1508.23L167.56,1526.54L168.78,1526.54L168.78,1521.73L170.00,1521.73L170.00,1524.57L171.22,1524.57L171.22,1527.26L172.44,1527.26L172.44,1529.44L173.66,1529.44L173.66,1533.22L174.88,1533.22L174.88,1536.79L176.10,1536.79L176.10,1544.74L177.32,1544.74L177.32,1547.88L178.54,1547.88L178.54,1552.72L179.76,1552.72L179.76,1555.62L180.98,1555.62L180.98,1557.99L182.20,1557.99L182.20,1558.22L183.42,1558.22L183.42,1555.33L184.64,1555.33L184.64,1556.90L185.86,1556.90L185.86,1557.59L187.08,1557.59L187.08,1562.24L188.30,1562.24L188.30,1565.90L189.52,1565.90L189.52,1562.56L190.74,1562.56L190.74,1565.61L191.96,1565.61L191.96,1570.07L193.18,1570.07L193.18,1569.57L194.40,1569.57L194.40,1570.87L195.62,1570.87L195.62,1570.05L196.84,1570.05L196.84,1568.79L198.06,1568.79L198.06,1568.74L199.28,1568.74L199.28,1566.93L200.50,1566.93L200.50,1570.76L201.72,1570.76L201.72,1572.14L202.94,1572.14L202.94,1570.98L204.16,1570.98L204.16,1571.67L205.38,1571.67L205.38,1572.55L206.60,1572.55L206.60,1573.31L207.82,1573.31L207.82,1574.20L209.04,1574.20L209.04,1573.36L210.26,1573.36L210.26,1574.59L211.48,1574.59L211.48,1574.98L212.70,1574.98L212.70,1576.13L213.92,1576.13L213.92,1574.54L215.14,1574.54L215.14,1576.44L216.36,1576.44L216.36,1575.22L217.58,1575.22L217.58,1575.08L218.80,1575.08L218.80,1573.98L220.02,1573.98L220.02,1573.59L221.24,1573.59L221.24,1573.44L222.46,1573.44L222.46,1572.54L223.68,1572.54L223.68,1574.18L224.90,1574.18L224.90,1574.30L226.12,1574.30L226.12,1572.80L227.34,1572.80L227.34,1573.20L228.56,1573.20L228.56,1572.76L229.78,1572.76L229.78,1572.67L231.00,1572.67L231.00,1573.57L232.22,1573.57L232.22,1575.52L233.44,1575.52L233.44,1575.30L234.66,1575.30L234.66,1575.56L235.88,1575.56L235.88,1574.87L237.10,1574.87L237.10,1577.30L238.32,1577.30L238.32,1576.91L239.54,1576.91L239.54,1574.60L240.76,1574.60L240.76,1576.02L241.98,1576.02L241.98,1573.77L243.20,1573.77L243.20,1573.85L244.42,1573.85L244.42,1573.76L245.64,1573.76L245.64,1575.31L246.86,1575.31L246.86,1576.32L248.08,1576.32L248.08,1574.55L249.30,1574.55L249.30,1573.80L250.52,1573.80L250.52,1573.77L251.74,1573.77L251.74,1576.52L252.96,1576.52L252.96,1575.72L254.18,1575.72L254.18,1576.43L255.40,1576.43L255.40,1576.14L256.62,1576.14L256.62,1577.04L257.84,1577.04L257.84,1576.38L259.06,1576.38L259.06,1579.28L260.28,1579.28L260.28,1577.24L261.50,1577.24L261.50,1577.75L262.72,1577.75L262.72,1576.44L263.94,1576.44L263.94,1577.09L265.16,1577.09L265.16,1575.44L266.38,1575.44L266.38,1577.45L267.60,1577.45L267.60,1577.37L268.82,1577.37L268.82,1576.92L270.04,1576.92L270.04,1576.89L271.26,1576.89L271.26,1576.56L272.48,1576.56L272.48,1577.12L273.70,1577.12L273.70,1578.74L274.92,1578.74L274.92,1577.62L276.14,1577.62L276.14,1578.09L277.36,1578.09L277.36,1579.07L278.58,1579.07L278.58,1578.11L279.80,1578.11L279.80,1578.05L281.02,1578.05L281.02,1578.31L282.24,1578.31L282.24,1579.40L283.46,1579.40L283.46,1580.30L284.68,1580.30L284.68,1578.67L285.90,1578.67L285.90,1579.35L287.12,1579.35L287.12,1577.71L288.34,1577.71L288.34,1578.17L289.56,1578.17L289.56,1577.58L290.78,1577.58L290.78,1578.51L292.00,1578.51L292.00,1579.29L293.22,1579.29L293.22,1577.95L294.44,1577.95L294.44,1576.03L295.66,1576.03L295.66,1579.15L296.88,1579.15L296.88,1576.90L298.10,1576.90L298.10,1577.80L299.32,1577.80L299.32,1576.93L300.54,1576.93L300.54,1578.26L301.76,1578.26L301.76,1578.88L302.98,1578.88L302.98,1577.02L304.20,1577.02L304.20,1575.11L305.42,1575.11L305.42,1577.22L306.64,1577.22L306.64,1575.30L307.86,1575.30L307.86,1577.20L309.08,1577.20L309.08,1577.52L310.30,1577.52L310.30,1574.49L311.52,1574.49L311.52,1578.50L312.74,1578.50L312.74,1579.50L313.96,1579.50L313.96,1577.94L315.18,1577.94L315.18,1577.38L316.40,1577.38L316.40,1578.72L317.62,1578.72L317.62,1576.89L318.84,1576.89L318.84,1579.83L320.06,1579.83L320.06,1579.24L321.28,1579.24L321.28,1578.51L322.50,1578.51L322.50,1576.80L323.72,1576.80L323.72,1576.57L324.94,1576.57L324.94,1578.59L326.16,1578.59L326.16,1578.14L327.38,1578.14L327.38,1578.49L328.60,1578.49L328.60,1579.24L329.82,1579.24L329.82,1578.56L331.04,1578.56L331.04,1578.64L332.26,1578.64L332.26,1578.68L333.48,1578.68L333.48,1577.73L334.70,1577.73L334.70,1579.14L335.92,1579.14L335.92,1580.30L337.14,1580.30L337.14,1577.71L338.36,1577.71L338.36,1579.67L339.58,1579.67L339.58,1579.48L340.80,1579.48L340.80,1579.15L342.02,1579.15L342.02,1577.44L343.24,1577.44L343.24,1580.06L344.46,1580.06L344.46,1580.30L345.68,1580.30L345.68,1580.30L346.90,1580.30L346.90,1580.30L348.12,1580.30L348.12,1580.30L349.34,1580.30L349.34,1580.30L350.56,1580.30L350.56,1580.30L351.78,1580.30L351.78,1580.30L353.00,1580.30L353.00,1580.30L354.22,1580.30L354.22,1580.30L355.44,1580.30L355.44,1580.30L356.66,1580.30L356.66,1580.30L357.88,1580.30L357.88,1580.30L359.10,1580.30L359.10,1580.30L360.32,1580.30L360.32,1580.30L361.54,1580.30L361.54,1580.30L362.76,1580.30L362.76,1580.30L363.98,1580.30L363.98,1580.30L365.20,1580.30L365.20,1580.30L366.42,1580.30L366.42,1580.30L367.64,1580.30L367.64,1580.30L368.86,1580.30L368.86,1580.30L370.08,1580.30L370.08,1580.30L371.30,1580.30L371.30,1580.30L372.52,1580.30L372.52,1580.30L373.74,1580.30L373.74,1580.30L374.96,1580.30L374.96,1580.30L376.18,1580.30L376.18,1580.30L377.40,1580.30L377.40,1580.30L378.62,1580.30L378.62,1580.30L379.84,1580.30L379.84,1580.30L381.06,1580.30L381.06,1580.30L382.28,1580.30L382.28,1580.30L383.50,1580.30L383.50,1580.30L384.72,1580.30L384.72,1580.30L385.94,1580.30L385.94,1580.30L387.16,1580.30L387.16,1580.30L388.38,1580.30L388.38,1580.30L389.60,1580.30L389.60,1580.30L390.82,1580.30L390.82,1580.30L392.04,1580.30L392.04,1580.30L393.26,1580.30L393.26,1580.30L394.48,1580.30L394.48,1580.30L395.70,1580.30L395.70,1580.30L396.92,1580.30L396.92,1580.30L398.14,1580.30L398.14,1580.30L399.36,1580.30L399.36,1580.30L400.58,1580.30L400.58,1580.30L401.80,1580.30L401.80,1580.30L403.02,1580.30L403.02,1580.30L404.24,1580.30L404.24,1580.30L405.46,1580.30L405.46,1580.30L406.68,1580.30L406.68,1580.30L407.90,1580.30L407.90,1580.30L409.12,1580.30L409.12,1580.30L410.34,1580.30L410.34,1580.30L411.56,1580.30L411.56,1580.30L412.78,1580.30L412.78,1580.30L414.00,1580.30L414.00,1580.30L415.22,1580.30L415.22,1580.30L416.44,1580.30L416.44,1580.30L417.66,1580.30L417.66,1580.30L418.88,1580.30L418.88,1580.30L420.10,1580.30L420.10,1580.30L421.32,1580.30L421.32,1580.30L422.54,1580.30L422.54,1580.30L423.76,1580.30L423.76,1580.30L424.98,1580.30L424.98,1580.30L426.20,1580.30L426.20,1580.30L427.42,1580.30L427.42,1580.30L428.64,1580.30L428.64,1580.30L429.86,1580.30L429.86,1580.30L431.08,1580.30L431.08,1580.30L432.30,1580.30L432.30,1580.30L433.52,1580.30L433.52,1580.30L434.74,1580.30L434.74,1580.30L435.96,1580.30L435.96,1580.30L437.18,1580.30L437.18,1580.30L438.40,1580.30L438.40,1580.30L439.62,1580.30L439.62,1580.30L440.84,1580.30L440.84,1580.30L442.06,1580.30L442.06,1580.30L443.28,1580.30L443.28,1580.30L444.50,1580.30L444.50,1580.30L445.72,1580.30L445.72,1580.30L446.94,1580.30L446.94,1580.30L448.16,1580.30L448.16,1580.30L449.38,1580.30L449.38,1580.30L450.60,1580.30L450.60,1580.30L451.82,1580.30L451.82,1580.30L453.04,1580.30L453.04,1580.30L454.26,1580.30L454.26,1580.30L455.48,1580.30L455.48,1580.30L456.70,1580.30L456.70,1580.30L457.92,1580.30L457.92,1580.30L459.14,1580.30L459.14,1580.30L460.36,1580.30L460.36,1580.30L461.58,1580.30L461.58,1580.30L462.80,1580.30L462.80,1580.30L464.02,1580.30L464.02,1580.30L465.24,1580.30L465.24,1580.30L466.46,1580.30L466.46,1580.30L467.68,1580.30L467.68,1580.30L468.90,1580.30L468.90,1580.30L470.12,1580.30L470.12,1580.30L471.34,1580.30L471.34,1580.30L472.56,1580.30L472.56,1580.30L473.78,1580.30L473.78,1580.30L475.00,1580.30L475.00,1580.30L476.22,1580.30L476.22,1580.30L477.44,1580.30L477.44,1580.30L478.66,1580.30L478.66,1580.30L479.88,1580.30L479.88,1580.30L481.10,1580.30L481.10,1580.30L482.32,1580.30L482.32,1580.30L483.54,1580.30L483.54,1580.30L484.76,1580.30L484.76,1580.30L485.98,1580.30L485.98,1580.30L487.20,1580.30L487.20,1580.30L488.42,1580.30L488.42,1580.30L489.64,1580.30L489.64,1580.30L490.86,1580.30L490.86,1580.30L492.08,1580.30L492.08,1580.30L493.30,1580.30L493.30,1580.30L494.52,1580.30L494.52,1580.30L495.74,1580.30L495.74,1580.30L496.96,1580.30L496.96,1580.30L498.18,1580.30L498.18,1580.30L499.40,1580.30L499.40,1580.30L500.62,1580.30L500.62,1580.30L501.84,1580.30L501.84,1580.30L503.06,1580.30L503.06,1580.30L504.28,1580.30L504.28,1580.30L505.50,1580.30L505.50,1580.30L506.72,1580.30L506.72,1580.30L507.94,1580.30L507.94,1580.30L509.16,1580.30L509.16,1580.30L510.38,1580.30L510.38,1580.30L511.60,1580.30L511.60,1580.30L512.82,1580.30L512.82,1580.30L514.04,1580.30L514.04,1580.30L515.26,1580.30L515.26,1580.30L516.48,1580.30L516.48,1580.30L517.70,1580.30L517.70,1580.30L518.92,1580.30L518.92,1580.30L520.14,1580.30L520.14,1580.30L521.36,1580.30L521.36,1580.30L522.58,1580.30L522.58,1580.30L523.80,1580.30L523.80,1580.30L525.02,1580.30L525.02,1580.30L526.24,1580.30L526.24,1580.30L527.46,1580.30L527.46,1580.30L528.68,1580.30L528.68,1580.30L529.90,1580.30L529.90,1580.30L531.12,1580.30L531.12,1580.30L532.34,1580.30L532.34,1580.30Z" fill="#6600cc" stroke="none"/>
<path d="M41.90,1580.30L41.90,1540.25L43.12,1540.25L43.12,1535.10L44.34,1535.10L44.34,1534.33L45.56,1534.33L45.56,1539.18L46.78,1539.18L46.78,1539.08L48.00,1539.08L48.00,1537.09L49.22,1537.09L49.22,1534.92L50.44,1534.92L50.44,1534.32L51.66,1534.32L51.66,1530.10L52.88,1530.10L52.88,1532.92L54.10,1532.92L54.10,1534.41L55.32,1534.41L55.32,1535.68L56.54,1535.68L56.54,1527.34L57.76,1527.34L57.76,1536.93L58.98,1536.93L58.98,1536.99L60.20,1536.99L60.20,1539.95L61.42,1539.95L61.42,1538.36L62.64,1538.36L62.64,1536.68L63.86,1536.68L63.86,1534.91L65.08,1534.91L65.08,1539.06L66.30,1539.06L66.30,1535.43L67.52,1535.43L67.52,1538.28L68.74,1538.28L68.74,1520.53L69.96,1520.53L69.96,1537.81L71.18,1537.81L71.18,1536.74L72.40,1536.74L72.40,1535.56L73.62,1535.56L73.62,1538.38L74.84,1538.38L74.84,1534.64L76.06,1534.64L76.06,1525.20L77.28,1525.20L77.28,1523.98L78.50,1523.98L78.50,1526.03L79.72,1526.03L79.72,1526.06L80.94,1526.06L80.94,1527.40L82.16,1527.40L82.16,1517.61L83.38,1517.61L83.38,1509.37L84.60,1509.37L84.60,1519.44L85.82,1519.44L85.82,1518.18L87.04,1518.18L87.04,1505.51L88.26,1505.51L88.26,1509.77L89.48,1509.77L89.48,1501.72L90.70,1501.72L90.70,1500.98L91.92,1500.98L91.92,1497.82L93.14,1497.82L93.14,1504.23L94.36,1504.23L94.36,1469.29L95.58,1469.29L95.58,1486.49L96.80,1486.49L96.80,1493.60L98.02,1493.60L98.02,1477.39L99.24,1477.39L99.24,1465.34L100.46,1465.34L100.46,1490.47L101.68,1490.47L101.68,1485.80L102.90,1485.80L102.90,1485.66L104.12,1485.66L104.12,1477.82L105.34,1477.82L105.34,1480.33L106.56,1480.33L106.56,1483.41L107.78,1483.41L107.78,1472.86L109.00,1472.86L109.00,1475.16L110.22,1475.16L110.22,1458.07L111.44,1458.07L111.44,1474.46L112.66,1474.46L112.66,1468.76L113.88,1468.76L113.88,1461.08L115.10,1461.08L115.10,1455.07L116.32,1455.07L116.32,1456.58L117.54,1456.58L117.54,1460.47L118.76,1460.47L118.76,1472.09L119.98,1472.09L119.98,1463.14L121.20,1463.14L121.20,1451.02L122.42,1451.02L122.42,1457.76L123.64,1457.76L123.64,1461.41L124.86,1461.41L124.86,1442.40L126.08,1442.40L126.08,1459.82L127.30,1459.82L127.30,1440.87L128.52,1440.87L128.52,1466.09L129.74,1466.09L129.74,1472.81L130.96,1472.81L130.96,1452.90L132.18,1452.90L132.18,1449.35L133.40,1449.35L133.40,1439.26L134.62,1439.26L134.62,1463.51L135.84,1463.51L135.84,1452.61L137.06,1452.61L137.06,1465.84L138.28,1465.84L138.28,1467.06L139.50,1467.06L139.50,1458.23L140.72,1458.23L140.72,1469.78L141.94,1469.78L141.94,1463.04L143.16,1463.04L143.16,1470.53L144.38,1470.53L144.38,1469.72L145.60,1469.72L145.60,1461.01L146.82,1461.01L146.82,1470.06L148.04,1470.06L148.04,1475.89L149.26,1475.89L149.26,1474.92L150.48,1474.92L150.48,1472.10L151.70,1472.10L151.70,1471.08L152.92,1471.08L152.92,1472.73L154.14,1472.73L154.14,1472.65L155.36,1472.65L155.36,1480.26L156.58,1480.26L156.58,1491.24L157.80,1491.24L157.80,1490.98L159.02,1490.98L159.02,1497.31L160.24,1497.31L160.24,1495.98L161.46,1495.98L161.46,1502.34L162.68,1502.34L162.68,1505.04L163.90,1505.04L163.90,1506.01L165.12,1506.01L165.12,1512.76L166.34,1512.76L166.34,1508.23L167.56,1508.23L167.56,1526.54L168.78,1526.54L168.78,1521.73L170.00,1521.73L170.00,1524.57L171.22,1524.57L171.22,1527.26L172.44,1527.26L172.44,1529.44L173.66,1529.44L173.66,1533.22L174.88,1533.22L174.88,1536.79L176.10,1536.79L176.10,1544.74L177.32,1544.74L177.32,1547.88L178.54,1547.88L178.54,1552.72L179.76,1552.72L179.76,1555.62L180.98,1555.62L180.98,1557.99L182.20,1557.99L182.20,1558.22L183.42,1558.22L183.42,1555.33L184.64,1555.33L184.64,1556.90L185.86,1556.90L185.86,1557.59L187.08,1557.59L187.08,1562.24L188.30,1562.24L188.30,1565.90L189.52,1565.90L189.52,1562.56L190.74,1562.56L190.74,1565.61L191.96,1565.61L191.96,1570.07L193.18,1570.07L193.18,1569.57L194.40,1569.57L194.40,1570.87L195.62,1570.87L195.62,1570.05L196.84,1570.05L196.84,1568.79L198.06,1568.79L198.06,1568.74L199.28,1568.74L199.28,1566.93L200.50,1566.93L200.50,1570.76L201.72,1570.76L201.72,1572.14L202.94,1572.14L202.94,1570.98L204.16,1570.98L204.16,1571.67L205.38,1571.67L205.38,1572.55L206.60,1572.55L206.60,1573.31L207.82,1573.31L207.82,1574.20L209.04,1574.20L209.04,1573.36L210.26,1573.36L210.26,1574.59L211.48,1574.59L211.48,1574.98L212.70,1574.98L212.70,1576.13L213.92,1576.13L213.92,1574.54L215.14,1574.54L215.14,1576.44L216.36,1576.44L216.36,1575.22L217.58,1575.22L217.58,1575.08L218.80,1575.08L218.80,1573.98L220.02,1573.98L220.02,1573.59L221.24,1573.59L221.24,1573.44L222.46,1573.44L222.46,1572.54L223.68,1572.54L223.68,1574.18L224.90,1574.18L224.90,1574.30L226.12,1574.30L226.12,1572.80L227.34,1572.80L227.34,1573.20L228.56,1573.20L228.56,1572.76L229.78,1572.76L229.78,1572.67L231.00,1572.67L231.00,1573.57L232.22,1573.57L232.22,1575.52L233.44,1575.52L233.44,1575.30L234.66,1575.30L234.66,1575.56L235.88,1575.56L235.88,1574.87L237.10,1574.87L237.10,1577.30L238.32,1577.30L238.32,1576.91L239.54,1576.91L239.54,1574.60L240.76,1574.60L240.76,1576.02L241.98,1576.02L241.98,1573.77L243.20,1573.77L243.20,1573.85L244.42,1573.85L244.42,1573.76L245.64,1573.76L245.64,1575.31L246.86,1575.31L246.86,1576.32L248.08,1576.32L248.08,1574.55L249.30,1574.55L249.30,1573.80L250.52,1573.80L250.52,1573.77L251.74,1573.77L251.74,1576.52L252.96,1576.52L252.96,1575.72L254.18,1575.72L254.18,1576.43L255.40,1576.43L255.40,1576.14L256.62,1576.14L256.62,1577.04L257.84,1577.04L257.84,1576.38L259.06,1576.38L259.06,1579.28L260.28,1579.28L260.28,1577.24L261.50,1577.24L261.50,1577.75L262.72,1577.75L262.72,1576.44L263.94,1576.44L263.94,1577.09L265.16,1577.09L265.16,1575.44L266.38,1575.44L266.38,1577.45L267.60,1577.45L267.60,1577.37L268.82,1577.37L268.82,1576.92L270.04,1576.92L270.04,1576.89L271.26,1576.89L271.26,1576.56L272.48,1576.56L272.48,1577.12L273.70,1577.12L273.70,1578.74L274.92,1578.74L274.92,1577.62L276.14,1577.62L276.14,1578.09L277.36,1578.09L277.36,1579.07L278.58,1579.07L278.58,1578.11L279.80,1578.11L279.80,1578.05L281.02,1578.05L281.02,1578.31L282.24,1578.31L282.24,1579.40L283.46,1579.40L283.46,1580.30L284.68,1580.30L284.68,1578.67L285.90,1578.67L285.90,1579.35L287.12,1579.35L287.12,1577.71L288.34,1577.71L288.34,1578.17L289.56,1578.17L289.56,1577.58L290.78,1577.58L290.78,1578.51L292.00,1578.51L292.00,1579.29L293.22,1579.29L293.22,1577.95L294.44,1577.95L294.44,1576.03L295.66,1576.03L295.66,1579.15L296.88,1579.15L296.88,1576.90L298.10,1576.90L298.10,1577.80L299.32,1577.80L299.32,1576.93L300.54,1576.93L300.54,1578.26L301.76,1578.26L301.76,1578.88L302.98,1578.88L302.98,1577.02L304.20,1577.02L304.20,1575.11L305.42,1575.11L305.42,1577.22L306.64,1577.22L306.64,1575.30L307.86,1575.30L307.86,1577.20L309.08,1577.20L309.08,1577.52L310.30,1577.52L310.30,1574.49L311.52,1574.49L311.52,1578.50L312.74,1578.50L312.74,1579.50L313.96,1579.50L313.96,1577.94L315.18,1577.94L315.18,1577.38L316.40,1577.38L316.40,1578.72L317.62,1578.72L317.62,1576.89L318.84,1576.89L318.84,1579.83L320.06,1579.83L320.06,1579.24L321.28,1579.24L321.28,1578.51L322.50,1578.51L322.50,1576.80L323.72,1576.80L323.72,1576.57L324.94,1576.57L324.94,1578.59L326.16,1578.59L326.16,1578.14L327.38,1578.14L327.38,1578.49L328.60,1578.49L328.60,1579.24L329.82,1579.24L329.82,1578.56L331.04,1578.56L331.04,1578.64L332.26,1578.64L332.26,1578.68L333.48,1578.68L333.48,1577.73L334.70,1577.73L334.70,1579.14L335.92,1579.14L335.92,1580.30L337.14,1580.30L337.14,1577.71L338.36,1577.71L338.36,1579.67L339.58,1579.67L339.58,1579.48L340.80,1579.48L340.80,1579.15L342.02,1579.15L342.02,1577.44L343.24,1577.44L343.24,1580.06L344.46,1580.06L344.46,1580.30L345.68,1580.30L345.68,1580.30L346.90,1580.30L346.90,1580.30L348.12,1580.30L348.12,1580.30L349.34,1580.30L349.34,1580.30L350.56,1580.30L350.56,1580.30L351.78,1580.30L351.78,1580.30L353.00,1580.30L353.00,1580.30L354.22,1580.30L354.22,1580.30L355.44,1580.30L355.44,1580.30L356.66,1580.30L356.66,1580.30L357.88,1580.30L357.88,1580.30L359.10,1580.30L359.10,1580.30L360.32,1580.30L360.32,1580.30L361.54,1580.30L361.54,1580.30L362.76,1580.30L362.76,1580.30L363.98,1580.30L363.98,1580.30L365.20,1580.30L365.20,1580.30L366.42,1580.30L366.42,1580.30L367.64,1580.30L367.64,1580.30L368.86,1580.30L368.86,1580.30L370.08,1580.30L370.08,1580.30L371.30,1580.30L371.30,1580.30L372.52,1580.30L372.52,1580.30L373.74,1580.30L373.74,1580.30L374.96,1580.30L374.96,1580.30L376.18,1580.30L376.18,1580.30L377.40,1580.30L377.40,1580.30L378.62,1580.30L378.62,1580.30L379.84,1580.30L379.84,1580.30L381.06,1580.30L381.06,1580.30L382.28,1580.30L382.28,1580.30L383.50,1580.30L383.50,1580.30L384.72,1580.30L384.72,1580.30L385.94,1580.30L385.94,1580.30L387.16,1580.30L387.16,1580.30L388.38,1580.30L388.38,1580.30L389.60,1580.30L389.60,1580.30L390.82,1580.30L390.82,1580.30L392.04,1580.30L392.04,1580.30L393.26,1580.30L393.26,1580.30L394.48,1580.30L394.48,1580.30L395.70,1580.30L395.70,1580.30L396.92,1580.30L396.92,1580.30L398.14,1580.30L398.14,1580.30L399.36,1580.30L399.36,1580.30L400.58,1580.30L400.58,1580.30L401.80,1580.30L401.80,1580.30L403.02,1580.30L403.02,1580.30L404.24,1580.30L404.24,1580.30L405.46,1580.30L405.46,1580.30L406.68,1580.30L406.68,1580.30L407.90,1580.30L407.90,1580.30L409.12,1580.30L409.12,1580.30L410.34,1580.30L410.34,1580.30L411.56,1580.30L411.56,1580.30L412.78,1580.30L412.78,1580.30L414.00,1580.30L414.00,1580.30L415.22,1580.30L415.22,1580.30L416.44,1580.30L416.44,1580.30L417.66,1580.30L417.66,1580.30L418.88,1580.30L418.88,1580.30L420.10,1580.30L420.10,1580.30L421.32,1580.30L421.32,1580.30L422.54,1580.30L422.54,1580.30L423.76,1580.30L423.76,1580.30L424.98,1580.30L424.98,1580.30L426.20,1580.30L426.20,1580.30L427.42,1580.30L427.42,1580.30L428.64,1580.30L428.64,1580.30L429.86,1580.30L429.86,1580.30L431.08,1580.30L431.08,1580.30L432.30,1580.30L432.30,1580.30L433.52,1580.30L433.52,1580.30L434.74,1580.30L434.74,1580.30L435.96,1580.30L435.96,1580.30L437.18,1580.30L437.18,1580.30L438.40,1580.30L438.40,1580.30L439.62,1580.30L439.62,1580.30L440.84,1580.30L440.84,1580.30L442.06,1580.30L442.06,1580.30L443.28,1580.30L443.28,1580.30L444.50,1580.30L444.50,1580.30L445.72,1580.30L445.72,1580.30L446.94,1580.30L446.94,1580.30L448.16,1580.30L448.16,1580.30L449.38,1580.30L449.38,1580.30L450.60,1580.30L450.60,1580.30L451.82,1580.30L451.82,1580.30L453.04,1580.30L453.04,1580.30L454.26,1580.30L454.26,1580.30L455.48,1580.30L455.48,1580.30L456.70,1580.30L456.70,1580.30L457.92,1580.30L457.92,1580.30L459.14,1580.30L459.14,1580.30L460.36,1580.30L460.36,1580.30L461.58,1580.30L461.58,1580.30L462.80,1580.30L462.80,1580.30L464.02,1580.30L464.02,1580.30L465.24,1580.30L465.24,1580.30L466.46,1580.30L466.46,1580.30L467.68,1580.30L467.68,1580.30L468.90,1580.30L468.90,1580.30L470.12,1580.30L470.12,1580.30L471.34,1580.30L471.34,1580.30L472.56,1580.30L472.56,1580.30L473.78,1580.30L473.78,1580.30L475.00,1580.30L475.00,1580.30L476.22,1580.30L476.22,1580.30L477.44,1580.30L477.44,1580.30L478.66,1580.30L478.66,1580.30L479.88,1580.30L479.88,1580.30L481.10,1580.30L481.10,1580.30L482.32,1580.30L482.32,1580.30L483.54,1580.30L483.54,1580.30L484.76,1580.30L484.76,1580.30L485.98,1580.30L485.98,1580.30L487.20,1580.30L487.20,1580.30L488.42,1580.30L488.42,1580.30L489.64,1580.30L489.64,1580.30L490.86,1580.30L490.86,1580.30L492.08,1580.30L492.08,1580.30L493.30,1580.30L493.30,1580.30L494.52,1580.30L494.52,1580.30L495.74,1580.30L495.74,1580.30L496.96,1580.30L496.96,1580.30L498.18,1580.30L498.18,1580.30L499.40,1580.30L499.40,1580.30L500.62,1580.30L500.62,1580.30L501.84,1580.30L501.84,1580.30L503.06,1580.30L503.06,1580.30L504.28,1580.30L504.28,1580.30L505.50,1580.30L505.50,1580.30L506.72,1580.30L506.72,1580.30L507.94,1580.30L507.94,1580.30L509.16,1580.30L509.16,1580.30L510.38,1580.30L510.38,1580.30L511.60,1580.30L511.60,1580.30L512.82,1580.30L512.82,1580.30L514.04,1580.30L514.04,1580.30L515.26,1580.30L515.26,1580.30L516.48,1580.30L516.48,1580.30L517.70,1580.30L517.70,1580.30L518.92,1580.30L518.92,1580.30L520.14,1580.30L520.14,1580.30L521.36,1580.30L521.36,1580.30L522.58,1580.30L522.58,1580.30L523.80,1580.30L523.80,1580.30L525.02,1580.30L525.02,1580.30L526.24,1580.30L526.24,1580.30L527.46,1580.30L527.46,1580.30L528.68,1580.30L528.68,1580.30L529.90,1580.30L529.90,1580.30L531.12,1580.30L531.12,1580.30L532.34,1580.30L532.34,1580.30Z" fill="none" stroke="#000" stroke-width="1.3"/>
<path d="M41.90,1558.07L43.93,1558.07L43.93,1559.30L45.97,1559.30L45.97,1544.09L48.00,1544.09L48.00,1551.62L50.03,1551.62L50.03,1554.79L52.07,1554.79L52.07,1557.85L54.10,1557.85L54.10,1556.45L56.13,1556.45L56.13,1556.24L58.17,1556.24L58.17,1556.18L60.20,1556.18L60.20,1553.94L62.23,1553.94L62.23,1548.31L64.27,1548.31L64.27,1555.94L66.30,1555.94L66.30,1557.83L68.33,1557.83L68.33,1558.04L70.37,1558.04L70.37,1550.11L72.40,1550.11L72.40,1553.78L74.43,1553.78L74.43,1549.91L76.47,1549.91L76.47,1544.01L78.50,1544.01L78.50,1548.23L80.53,1548.23L80.53,1546.38L82.57,1546.38L82.57,1545.69L84.60,1545.69L84.60,1541.47L86.63,1541.47L86.63,1546.31L88.67,1546.31L88.67,1545.88L90.70,1545.88L90.70,1537.22L92.73,1537.22L92.73,1534.92L94.77,1534.92L94.77,1503.10L96.80,1503.10L96.80,1523.05L98.83,1523.05L98.83,1517.82L100.87,1517.82L100.87,1523.90L102.90,1523.90L102.90,1524.48L104.93,1524.48L104.93,1504.34L106.97,1504.34L106.97,1514.36L109.00,1514.36L109.00,1525.39L111.03,1525.39L111.03,1523.90L113.07,1523.90L113.07,1519.20L115.10,1519.20L115.10,1513.99L117.13,1513.99L117.13,1518.57L119.17,1518.57L119.17,1526.54L121.20,1526.54L121.20,1533.52L123.23,1533.52L123.23,1511.82L125.27,1511.82L125.27,1506.84L127.30,1506.84L127.30,1512.31L129.33,1512.31L129.33,1519.15L131.37,1519.15L131.37,1519.49L133.40,1519.49L133.40,1518.25L135.43,1518.25L135.43,1510.19L137.47,1510.19L137.47,1533.68L139.50,1533.68L139.50,1514.26L141.53,1514.26L141.53,1518.45L143.57,1518.45L143.57,1488.19L145.60,1488.19L145.60,1521.29L147.63,1521.29L147.63,1527.18L149.67,1527.18L149.67,1505.07L151.70,1505.07L151.70,1493.79L153.73,1493.79L153.73,1508.86L155.77,1508.86L155.77,1497.04L157.80,1497.04L157.80,1511.06L159.83,1511.06L159.83,1506.26L161.87,1506.26L161.87,1513.32L163.90,1513.32L163.90,1495.64L165.93,1495.64L165.93,1489.76L167.97,1489.76L167.97,1495.28L170.00,1495.28L170.00,1520.32L172.03,1520.32L172.03,1502.89L174.07,1502.89L174.07,1498.65L176.10,1498.65L176.10,1503.51L178.13,1503.51L178.13,1488.32L180.17,1488.32L180.17,1516.21L182.20,1516.21L182.20,1531.94L184.23,1531.94L184.23,1526.94L186.27,1526.94L186.27,1530.69L188.30,1530.69L188.30,1522.02L190.33,1522.02L190.33,1495.85L192.37,1495.85L192.37,1512.69L194.40,1512.69L194.40,1521.71L196.43,1521.71L196.43,1527.61L198.47,1527.61L198.47,1505.74L200.50,1505.74L200.50,1501.10L202.53,1501.10L202.53,1524.02L204.57,1524.02L204.57,1518.14L206.60,1518.14L206.60,1531.47L208.63,1531.47L208.63,1529.45L210.67,1529.45L210.67,1540.24L212.70,1540.24L212.70,1542.37L214.73,1542.37L214.73,1533.13L216.77,1533.13L216.77,1547.75L218.80,1547.75L218.80,1531.03L220.83,1531.03L220.83,1534.02L222.87,1534.02L222.87,1543.24L224.90,1543.24L224.90,1547.43L226.93,1547.43L226.93,1557.50L228.97,1557.50L228.97,1556.03L231.00,1556.03L231.00,1550.03L233.03,1550.03L233.03,1551.65L235.07,1551.65L235.07,1558.75L237.10,1558.75L237.10,1566.28L239.13,1566.28L239.13,1562.45L241.17,1562.45L241.17,1559.05L243.20,1559.05L243.20,1562.59L245.23,1562.59L245.23,1563.36L247.27,1563.36L247.27,1562.80L249.30,1562.80L249.30,1569.01L251.33,1569.01L251.33,1566.03L253.37,1566.03L253.37,1563.45L255.40,1563.45L255.40,1572.65L257.43,1572.65L257.43,1565.95L259.47,1565.95L259.47,1566.59L261.50,1566.59L261.50,1570.99L263.53,1570.99L263.53,1570.64L265.57,1570.64L265.57,1567.60L267.60,1567.60L267.60,1569.47L269.63,1569.47L269.63,1572.99L271.67,1572.99L271.67,1574.79L273.70,1574.79L273.70,1573.63L275.73,1573.63L275.73,1575.64L277.77,1575.64L277.77,1575.81L279.80,1575.81L279.80,1573.49L281.83,1573.49L281.83,1576.53L283.87,1576.53L283.87,1573.50L285.90,1573.50L285.90,1574.38L287.93,1574.38L287.93,1576.79L289.97,1576.79L289.97,1575.99L292.00,1575.99L292.00,1577.91L294.03,1577.91L294.03,1574.23L296.07,1574.23L296.07,1574.67L298.10,1574.67L298.10,1575.38L300.13,1575.38L300.13,1577.15L302.17,1577.15L302.17,1576.11L304.20,1576.11L304.20,1572.98L306.23,1572.98L306.23,1574.74L308.27,1574.74L308.27,1578.59L310.30,1578.59L310.30,1579.25L312.33,1579.25L312.33,1580.30L314.37,1580.30L314.37,1580.30L316.40,1580.30L316.40,1580.30L318.43,1580.30L318.43,1580.30L320.47,1580.30L320.47,1580.30L322.50,1580.30L322.50,1580.30L324.53,1580.30L324.53,1580.30L326.57,1580.30L326.57,1580.30L328.60,1580.30L328.60,1580.30L330.63,1580.30L330.63,1580.30L332.67,1580.30L332.67,1580.30L334.70,1580.30L334.70,1580.30L336.73,1580.30L336.73,1580.30L338.77,1580.30L338.77,1580.30L340.80,1580.30L340.80,1580.30L342.83,1580.30L342.83,1580.30L344.87,1580.30L344.87,1580.30L346.90,1580.30L346.90,1580.30L348.93,1580.30L348.93,1580.30L350.97,1580.30L350.97,1580.30L353.00,1580.30L353.00,1580.30L355.03,1580.30L355.03,1580.30L357.07,1580.30L357.07,1580.30L359.10,1580.30L359.10,1580.30L361.13,1580.30L361.13,1579.85L363.17,1579.85L363.17,1576.38L365.20,1576.38L365.20,1580.30L367.23,1580.30L367.23,1580.30L369.27,1580.30L369.27,1580.30L371.30,1580.30L371.30,1580.30L373.33,1580.30L373.33,1580.30L375.37,1580.30L375.37,1577.06L377.40,1577.06L377.40,1576.40L379.43,1576.40L379.43,1579.18L381.47,1579.18L381.47,1579.26L383.50,1579.26L383.50,1578.03L385.53,1578.03L385.53,1580.30L387.57,1580.30L387.57,1580.30L389.60,1580.30L389.60,1580.30L391.63,1580.30L391.63,1580.30L393.67,1580.30L393.67,1580.30L395.70,1580.30L395.70,1580.30L397.73,1580.30L397.73,1580.30L399.77,1580.30L399.77,1580.30L401.80,1580.30L401.80,1580.30L403.83,1580.30L403.83,1580.30L405.87,1580.30L405.87,1580.30L407.90,1580.30L407.90,1580.30L409.93,1580.30L409.93,1580.30L411.97,1580.30L411.97,1580.30L414.00,1580.30L414.00,1580.30L416.03,1580.30L416.03,1580.30L418.07,1580.30L418.07,1580.30L420.10,1580.30L420.10,1580.30L422.13,1580.30L422.13,1580.30L424.17,1580.30L424.17,1580.30L426.20,1580.30L426.20,1580.30L428.23,1580.30L428.23,1580.30L430.27,1580.30L430.27,1580.30L432.30,1580.30L432.30,1580.30L434.33,1580.30L434.33,1580.30L436.37,1580.30L436.37,1580.30L438.40,1580.30L438.40,1580.30L440.43,1580.30L440.43,1580.30L442.47,1580.30L442.47,1580.30L444.50,1580.30L444.50,1580.30L446.53,1580.30L446.53,1580.30L448.57,1580.30L448.57,1580.30L450.60,1580.30L450.60,1580.30L452.63,1580.30L452.63,1580.30L454.67,1580.30L454.67,1580.30L456.70,1580.30L456.70,1580.30L458.73,1580.30L458.73,1580.30L460.77,1580.30L460.77,1580.30L462.80,1580.30L462.80,1580.30L464.83,1580.30L464.83,1580.30L466.87,1580.30L466.87,1580.30L468.90,1580.30L468.90,1580.30L470.93,1580.30L470.93,1580.30L472.97,1580.30L472.97,1580.30L475.00,1580.30L475.00,1580.30L477.03,1580.30L477.03,1580.30L479.07,1580.30L479.07,1580.30L481.10,1580.30L481.10,1580.30L483.13,1580.30L483.13,1580.30L485.17,1580.30L485.17,1580.30L487.20,1580.30L487.20,1580.30L489.23,1580.30L489.23,1580.30L491.27,1580.30L491.27,1580.30L493.30,1580.30L493.30,1580.30L495.33,1580.30L495.33,1580.30L497.37,1580.30L497.37,1580.30L499.40,1580.30L499.40,1580.30L501.43,1580.30L501.43,1580.30L503.47,1580.30L503.47,1580.30L505.50,1580.30L505.50,1580.30L507.53,1580.30L507.53,1580.30L509.57,1580.30L509.57,1580.30L511.60,1580.30L511.60,1580.30L513.63,1580.30L513.63,1580.30L515.67,1580.30L515.67,1580.30L517.70,1580.30L517.70,1580.30L519.73,1580.30L519.73,1580.30L521.77,1580.30L521.77,1580.30L523.80,1580.30L523.80,1580.30L525.83,1580.30L525.83,1580.30L527.87,1580.30L527.87,1580.30L529.90,1580.30L529.90,1580.30L531.93,1580.30" fill="none" stroke="#0000dd" stroke-width="2.7" stroke-linejoin="miter" stroke-linecap="square"/>
<rect x="41.00" y="1339.60" width="3.80" height="240.70" fill="#0000dd"/>
<rect x="44.80" y="1440.29" width="1.80" height="140.01" fill="#0000dd"/>
</g>
<rect x="40.90" y="1341.60" width="491.20" height="239.90" fill="none" stroke="#000" stroke-width="1.25"/>
<path d="M33.90,1580.30H40.90M36.70,1570.81H40.90M36.70,1561.32H40.90M36.70,1551.82H40.90M36.70,1542.33H40.90M33.90,1532.84H40.90M36.70,1523.35H40.90M36.70,1513.86H40.90M36.70,1504.36H40.90M36.70,1494.87H40.90M33.90,1485.38H40.90M36.70,1475.89H40.90M36.70,1466.40H40.90M36.70,1456.90H40.90M36.70,1447.41H40.90M33.90,1437.92H40.90M36.70,1428.43H40.90M36.70,1418.94H40.90M36.70,1409.44H40.90M36.70,1399.95H40.90M33.90,1390.46H40.90M36.70,1380.97H40.90M36.70,1371.48H40.90M36.70,1361.98H40.90M36.70,1352.49H40.90M33.90,1343.00H40.90M41.90,1581.50V1588.50M78.63,1581.50V1585.90M100.11,1581.50V1585.90M115.35,1581.50V1585.90M127.17,1581.50V1585.90M136.83,1581.50V1585.90M145.00,1581.50V1585.90M152.08,1581.50V1585.90M158.32,1581.50V1585.90M163.90,1581.50V1588.50M200.63,1581.50V1585.90M222.11,1581.50V1585.90M237.35,1581.50V1585.90M249.17,1581.50V1585.90M258.83,1581.50V1585.90M267.00,1581.50V1585.90M274.08,1581.50V1585.90M280.32,1581.50V1585.90M285.90,1581.50V1588.50M322.63,1581.50V1585.90M344.11,1581.50V1585.90M359.35,1581.50V1585.90M371.17,1581.50V1585.90M380.83,1581.50V1585.90M389.00,1581.50V1585.90M396.08,1581.50V1585.90M402.32,1581.50V1585.90M407.90,1581.50V1588.50M444.63,1581.50V1585.90M466.11,1581.50V1585.90M481.35,1581.50V1585.90M493.17,1581.50V1585.90M502.83,1581.50V1585.90M511.00,1581.50V1585.90M518.08,1581.50V1585.90M524.32,1581.50V1585.90M529.90,1581.50V1588.50" stroke="#000" stroke-width="1.25" fill="none"/>
<g font-family="'Liberation Sans', Arial, Helvetica, sans-serif" font-size="13.6" fill="#000"><text transform="translate(28.80,1580.30) rotate(-90) scale(1,1.16)" text-anchor="middle">0</text><text transform="translate(28.80,1532.84) rotate(-90) scale(1,1.16)" text-anchor="middle">20</text><text transform="translate(28.80,1485.38) rotate(-90) scale(1,1.16)" text-anchor="middle">40</text><text transform="translate(28.80,1437.92) rotate(-90) scale(1,1.16)" text-anchor="middle">60</text><text transform="translate(28.80,1390.46) rotate(-90) scale(1,1.16)" text-anchor="middle">80</text><text transform="translate(28.80,1343.00) rotate(-90) scale(1,1.16)" text-anchor="middle">100</text></g>
<g font-family="'Liberation Sans', Arial, Helvetica, sans-serif" font-size="13.4" fill="#000"><text transform="translate(45.90,1604.90) scale(1,1.08)" text-anchor="end">10</text><text x="46.20" y="1598.80" font-size="13">0</text><text transform="translate(167.90,1604.90) scale(1,1.08)" text-anchor="end">10</text><text x="168.20" y="1598.80" font-size="13">1</text><text transform="translate(289.90,1604.90) scale(1,1.08)" text-anchor="end">10</text><text x="290.20" y="1598.80" font-size="13">2</text><text transform="translate(411.90,1604.90) scale(1,1.08)" text-anchor="end">10</text><text x="412.20" y="1598.80" font-size="13">3</text><text transform="translate(533.90,1604.90) scale(1,1.08)" text-anchor="end">10</text><text x="534.20" y="1598.80" font-size="13">4</text></g>
<text x="283.00" y="1620.00" text-anchor="middle" font-family="'Liberation Sans', Arial, Helvetica, sans-serif" font-size="13" fill="#000">FL4-H</text>
<text transform="translate(13.80,1465.00) rotate(-90) scale(1,1.12)" text-anchor="middle" font-family="'Liberation Sans', Arial, Helvetica, sans-serif" font-size="13.9" fill="#000">Counts</text>
<path d="M189.20,1437.40V1463.00M189.20,1450.10H456.80M456.80,1437.40V1463.00" stroke="#000" stroke-width="1.3" fill="none"/>
<text x="332.90" y="1464.40" text-anchor="middle" font-family="'Liberation Sans', Arial, Helvetica, sans-serif" font-size="13" fill="#000">M1</text>
<text x="266.85" y="1328.50" text-anchor="middle" font-family="'Liberation Sans', Arial, Helvetica, sans-serif" font-weight="bold" font-size="27.95"><tspan fill="#6e2aa2">control</tspan><tspan fill="#000">/</tspan><tspan fill="#0030ff">OM</tspan></text>
</svg></body></html>
